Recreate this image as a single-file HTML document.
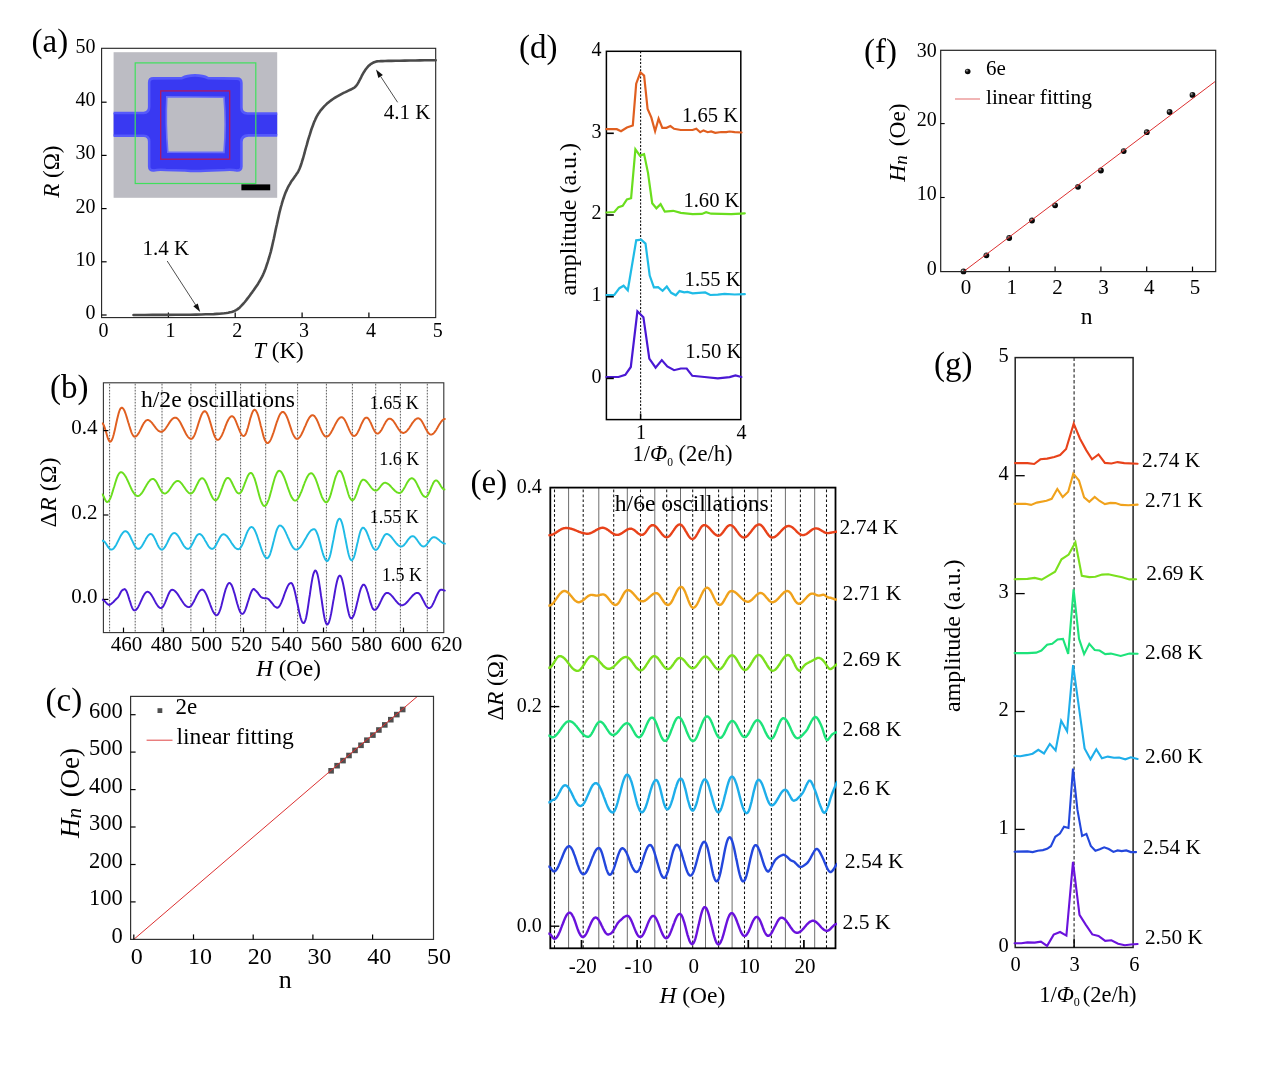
<!DOCTYPE html>
<html lang="en"><head><meta charset="utf-8"><title>Figure</title>
<style>
html,body{margin:0;padding:0;background:#fff;}
body{width:1269px;height:1069px;overflow:hidden;}
svg{display:block;}
svg text{font-family:"Liberation Serif", "DejaVu Serif", serif;fill:#000;}
</style></head><body>
<svg width="1269" height="1069" viewBox="0 0 1269 1069">
<rect x="0" y="0" width="1269" height="1069" fill="#fff"/>
<g>
<rect x="113.6" y="52.2" width="163.6" height="145.6" fill="#bcbcc3" stroke="none" stroke-width="0"/>
<clipPath id="clipins"><rect x="113.6" y="52.2" width="163.6" height="145.6"/></clipPath>
<path d="M105,113.0 L143.6,113.0 Q149.2,112.6 149.2,107.0 L149.2,82.5 Q149.2,78.4 153.4,78.4 L182,78.1 Q187,75.4 195,75.4 Q203,75.4 208,78.1 L237,78.6 Q241.4,78.6 241.4,83 L241.4,107.6 Q241.4,113.4 247.4,113.5 L285,113.5 L285,135.4 L248.4,135.4 Q241.4,135.6 241.4,142 L241.4,166.4 Q241.4,170.6 237,170.4 Q231,169.2 225,170.0 L205,170.7 Q195,171.4 185,170.5 L166,170.0 Q159,169.2 153.6,170.4 Q149.2,170.6 149.2,166.4 L149.2,141.6 Q149.2,136.0 143.6,135.8 L105,135.8 Z" fill="#3939f2" stroke="#5559fb" stroke-width="2.6" stroke-linejoin="round" clip-path="url(#clipins)"/>
<path d="M166.8,96.8 L224.0,97.2 Q226.4,124 224.0,152.4 L167.8,152.2 Q165.4,124 166.8,96.8 Z" fill="#bcbcc3" stroke="#6a6cf8" stroke-width="1.6"/>
<rect x="160.7" y="90.9" width="69.0" height="68.3" fill="none" stroke="#b3175f" stroke-width="1.3"/>
<rect x="135.2" y="62.9" width="120.6" height="120.6" fill="none" stroke="#3fe05c" stroke-width="1.2"/>
<rect x="241.4" y="184.4" width="28.8" height="5.9" fill="#000" stroke="none" stroke-width="0"/>
</g>
<rect x="101.6" y="48.3" width="334.1" height="269.3" fill="none" stroke="#222" stroke-width="1.1"/>
<line x1="101.6" y1="315.0" x2="106.6" y2="315.0" stroke="#000" stroke-width="1.2"/>
<text x="95.4" y="319.0" font-size="20" text-anchor="end">0</text>
<line x1="101.6" y1="261.8" x2="106.6" y2="261.8" stroke="#000" stroke-width="1.2"/>
<text x="95.4" y="265.8" font-size="20" text-anchor="end">10</text>
<line x1="101.6" y1="208.6" x2="106.6" y2="208.6" stroke="#000" stroke-width="1.2"/>
<text x="95.4" y="212.6" font-size="20" text-anchor="end">20</text>
<line x1="101.6" y1="155.4" x2="106.6" y2="155.4" stroke="#000" stroke-width="1.2"/>
<text x="95.4" y="159.4" font-size="20" text-anchor="end">30</text>
<line x1="101.6" y1="102.2" x2="106.6" y2="102.2" stroke="#000" stroke-width="1.2"/>
<text x="95.4" y="106.2" font-size="20" text-anchor="end">40</text>
<text x="95.4" y="53.0" font-size="20" text-anchor="end">50</text>
<text x="103.6" y="337.4" font-size="20" text-anchor="middle">0</text>
<line x1="168.4" y1="317.6" x2="168.4" y2="312.6" stroke="#000" stroke-width="1.2"/>
<text x="170.4" y="337.4" font-size="20" text-anchor="middle">1</text>
<line x1="235.2" y1="317.6" x2="235.2" y2="312.6" stroke="#000" stroke-width="1.2"/>
<text x="237.2" y="337.4" font-size="20" text-anchor="middle">2</text>
<line x1="302.1" y1="317.6" x2="302.1" y2="312.6" stroke="#000" stroke-width="1.2"/>
<text x="304.1" y="337.4" font-size="20" text-anchor="middle">3</text>
<line x1="368.9" y1="317.6" x2="368.9" y2="312.6" stroke="#000" stroke-width="1.2"/>
<text x="370.9" y="337.4" font-size="20" text-anchor="middle">4</text>
<text x="437.7" y="337.4" font-size="20" text-anchor="middle">5</text>
<text x="31.5" y="51.5" font-size="33" text-anchor="start">(a)</text>
<text x="278.5" y="357.5" font-size="23" text-anchor="middle"><tspan font-style="italic">T</tspan> (K)</text>
<text x="58.7" y="171.7" font-size="23" text-anchor="middle" transform="rotate(-90 58.7 171.7)"><tspan font-style="italic">R</tspan> (&#937;)</text>
<text x="142.5" y="254.8" font-size="21" text-anchor="start">1.4 K</text>
<text x="383.8" y="119.3" font-size="21" text-anchor="start">4.1 K</text>
<line x1="167.2" y1="261.0" x2="195.6" y2="304.9" stroke="#222" stroke-width="0.8"/>
<polygon points="200.2,312.0 193.3,306.3 197.8,303.4" fill="#111"/>
<line x1="397.6" y1="102.3" x2="380.7" y2="76.5" stroke="#222" stroke-width="0.8"/>
<polygon points="376.0,69.4 382.9,75.0 378.4,78.0" fill="#111"/>
<polyline points="133.5,315.0 138.2,315.0 144.9,315.0 152.5,314.9 160.0,314.9 167.5,314.9 175.4,314.8 183.1,314.8 190.0,314.7 195.9,314.6 201.1,314.5 205.8,314.3 210.0,314.2 213.7,314.1 216.8,313.9 219.5,313.7 222.0,313.5 224.3,313.3 226.4,313.0 228.2,312.7 230.0,312.3 231.7,311.9 233.2,311.4 234.6,310.9 236.0,310.2 237.3,309.4 238.6,308.4 239.8,307.4 241.0,306.2 242.2,304.9 243.5,303.5 244.8,302.0 246.0,300.5 247.2,298.9 248.5,297.2 249.8,295.5 251.0,293.8 252.3,292.1 253.6,290.3 254.8,288.5 256.0,286.8 257.1,285.2 258.1,283.7 259.0,282.2 260.0,280.5 261.0,278.6 262.1,276.6 263.1,274.6 264.0,272.5 264.8,270.5 265.6,268.5 266.3,266.4 267.0,264.2 267.8,261.9 268.5,259.5 269.3,257.0 270.0,254.5 270.7,252.1 271.3,249.6 271.9,247.1 272.5,244.5 273.1,241.7 273.8,238.8 274.4,235.9 275.0,233.0 275.6,230.1 276.2,227.2 276.9,224.3 277.5,221.5 278.1,218.7 278.7,216.0 279.3,213.2 280.0,210.5 280.7,207.7 281.5,205.0 282.2,202.3 283.0,199.8 283.8,197.5 284.5,195.4 285.2,193.5 286.0,191.6 286.8,189.9 287.5,188.3 288.2,186.8 289.0,185.4 289.8,184.1 290.5,182.8 291.2,181.6 292.0,180.5 292.8,179.4 293.5,178.4 294.2,177.4 295.0,176.3 295.8,175.2 296.5,174.1 297.3,173.0 298.0,171.8 298.7,170.5 299.3,169.2 299.9,167.8 300.5,166.2 301.1,164.5 301.7,162.7 302.3,160.7 303.0,158.5 303.7,156.0 304.5,153.2 305.2,150.3 306.0,147.5 306.8,144.9 307.5,142.2 308.2,139.7 309.0,137.2 309.8,134.7 310.5,132.3 311.2,130.0 312.0,127.8 312.8,125.7 313.5,123.8 314.2,121.9 315.0,120.2 315.7,118.6 316.4,117.1 317.2,115.7 318.0,114.3 318.9,112.9 319.9,111.5 320.9,110.1 322.0,108.8 323.2,107.5 324.4,106.1 325.7,104.9 327.0,103.6 328.4,102.4 329.9,101.2 331.4,100.1 333.0,99.0 334.7,97.9 336.4,96.8 338.2,95.8 340.0,94.8 341.8,93.8 343.6,92.9 345.4,92.1 347.0,91.3 348.4,90.6 349.7,90.0 350.9,89.5 352.0,88.9 353.0,88.3 353.9,87.8 354.7,87.3 355.5,86.6 356.2,85.9 356.8,85.0 357.4,84.2 358.0,83.2 358.6,82.1 359.2,80.9 359.9,79.7 360.5,78.5 361.1,77.3 361.7,76.0 362.3,74.8 363.0,73.6 363.7,72.4 364.5,71.2 365.2,70.1 366.0,69.0 366.8,68.0 367.5,67.2 368.2,66.3 369.0,65.6 369.8,64.9 370.5,64.3 371.2,63.8 372.0,63.3 372.8,62.9 373.5,62.5 374.2,62.2 375.0,61.9 375.7,61.7 376.2,61.5 377.0,61.4 378.0,61.3 379.3,61.2 380.8,61.1 382.6,61.1 385.0,61.0 388.1,60.9 391.7,60.9 395.7,60.8 400.0,60.7 404.7,60.6 410.0,60.5 415.2,60.5 420.0,60.4 424.6,60.3 429.1,60.3 433.0,60.2 435.7,60.2" fill="none" stroke="#4a4a4a" stroke-width="2.6" stroke-linejoin="round" stroke-linecap="round"/>
<clipPath id="clipb"><rect x="101.9" y="382.8" width="343.9" height="249.8"/></clipPath>
<line x1="109.6" y1="383.8" x2="109.6" y2="631.6" stroke="#4a4a4a" stroke-width="0.9" stroke-dasharray="1.7 1.3"/>
<line x1="135.2" y1="383.8" x2="135.2" y2="631.6" stroke="#4a4a4a" stroke-width="0.9" stroke-dasharray="1.7 1.3"/>
<line x1="162.0" y1="383.8" x2="162.0" y2="631.6" stroke="#4a4a4a" stroke-width="0.9" stroke-dasharray="1.7 1.3"/>
<line x1="190.9" y1="383.8" x2="190.9" y2="631.6" stroke="#4a4a4a" stroke-width="0.9" stroke-dasharray="1.7 1.3"/>
<line x1="215.7" y1="383.8" x2="215.7" y2="631.6" stroke="#4a4a4a" stroke-width="0.9" stroke-dasharray="1.7 1.3"/>
<line x1="240.6" y1="383.8" x2="240.6" y2="631.6" stroke="#4a4a4a" stroke-width="0.9" stroke-dasharray="1.7 1.3"/>
<line x1="265.7" y1="383.8" x2="265.7" y2="631.6" stroke="#4a4a4a" stroke-width="0.9" stroke-dasharray="1.7 1.3"/>
<line x1="297.6" y1="383.8" x2="297.6" y2="631.6" stroke="#4a4a4a" stroke-width="0.9" stroke-dasharray="1.7 1.3"/>
<line x1="326.4" y1="383.8" x2="326.4" y2="631.6" stroke="#4a4a4a" stroke-width="0.9" stroke-dasharray="1.7 1.3"/>
<line x1="352.4" y1="383.8" x2="352.4" y2="631.6" stroke="#4a4a4a" stroke-width="0.9" stroke-dasharray="1.7 1.3"/>
<line x1="375.7" y1="383.8" x2="375.7" y2="631.6" stroke="#4a4a4a" stroke-width="0.9" stroke-dasharray="1.7 1.3"/>
<line x1="400.4" y1="383.8" x2="400.4" y2="631.6" stroke="#4a4a4a" stroke-width="0.9" stroke-dasharray="1.7 1.3"/>
<line x1="427.3" y1="383.8" x2="427.3" y2="631.6" stroke="#4a4a4a" stroke-width="0.9" stroke-dasharray="1.7 1.3"/>
<rect x="103.4" y="382.8" width="340.4" height="249.8" fill="none" stroke="#333" stroke-width="1.1"/>
<polyline points="102.1,423.3 102.6,423.5 103.1,424.0 103.6,424.9 104.1,426.0 104.6,427.4 105.1,429.0 105.6,430.7 106.2,432.5 106.7,434.3 107.2,436.0 107.7,437.6 108.2,439.0 108.7,440.1 109.2,441.0 109.7,441.5 110.2,441.7 110.7,441.5 111.2,441.1 111.7,440.3 112.2,439.2 112.7,437.9 113.2,436.3 113.7,434.5 114.2,432.5 114.7,430.4 115.2,428.2 115.7,425.9 116.2,423.5 116.7,421.2 117.2,419.0 117.7,416.9 118.2,414.9 118.7,413.1 119.2,411.5 119.7,410.2 120.2,409.1 120.7,408.3 121.2,407.9 121.7,407.7 122.2,407.8 122.7,408.1 123.2,408.6 123.7,409.4 124.2,410.3 124.7,411.3 125.2,412.6 125.7,414.0 126.2,415.5 126.7,417.1 127.2,418.7 127.7,420.5 128.2,422.2 128.8,423.9 129.3,425.7 129.8,427.3 130.3,428.9 130.8,430.4 131.3,431.8 131.8,433.1 132.3,434.1 132.8,435.0 133.3,435.8 133.8,436.3 134.3,436.6 134.8,436.7 135.3,436.6 135.8,436.4 136.3,436.1 136.8,435.7 137.3,435.1 137.8,434.4 138.4,433.7 138.9,432.8 139.4,431.9 139.9,430.9 140.4,429.9 140.9,428.9 141.4,427.8 141.9,426.8 142.4,425.8 142.9,424.8 143.4,423.9 143.9,423.0 144.5,422.3 145.0,421.6 145.5,421.0 146.0,420.6 146.5,420.3 147.0,420.1 147.5,420.0 148.0,420.0 148.5,420.2 149.0,420.4 149.5,420.6 150.0,421.0 150.5,421.4 151.0,421.9 151.5,422.4 152.0,422.9 152.5,423.6 153.0,424.2 153.5,424.9 154.0,425.6 154.5,426.2 155.0,426.9 155.5,427.6 156.0,428.2 156.5,428.9 157.0,429.4 157.5,429.9 158.0,430.4 158.5,430.8 159.0,431.2 159.5,431.4 160.0,431.6 160.5,431.8 161.0,431.8 161.5,431.8 162.0,431.6 162.5,431.4 163.0,431.1 163.5,430.7 164.0,430.3 164.6,429.7 165.1,429.1 165.6,428.5 166.1,427.8 166.6,427.0 167.1,426.3 167.6,425.5 168.1,424.7 168.6,423.9 169.1,423.1 169.6,422.4 170.1,421.6 170.6,420.9 171.1,420.3 171.6,419.7 172.2,419.1 172.7,418.7 173.2,418.3 173.7,418.0 174.2,417.8 174.7,417.6 175.2,417.6 175.7,417.7 176.2,417.8 176.7,418.1 177.2,418.4 177.7,418.9 178.2,419.4 178.7,420.0 179.2,420.7 179.7,421.5 180.2,422.3 180.7,423.2 181.2,424.2 181.7,425.2 182.2,426.2 182.7,427.2 183.2,428.2 183.7,429.3 184.2,430.3 184.7,431.3 185.2,432.3 185.7,433.3 186.2,434.2 186.7,435.0 187.2,435.8 187.7,436.5 188.2,437.1 188.7,437.6 189.2,438.1 189.7,438.4 190.2,438.7 190.7,438.8 191.2,438.9 191.7,438.8 192.2,438.5 192.7,438.1 193.2,437.4 193.7,436.6 194.2,435.7 194.7,434.6 195.2,433.3 195.7,432.0 196.2,430.5 196.7,429.0 197.2,427.5 197.7,425.9 198.2,424.2 198.7,422.6 199.2,421.1 199.7,419.6 200.2,418.1 200.7,416.8 201.2,415.5 201.7,414.4 202.2,413.5 202.7,412.7 203.2,412.0 203.7,411.6 204.2,411.3 204.7,411.2 205.2,411.3 205.7,411.6 206.2,412.1 206.7,412.8 207.2,413.7 207.7,414.8 208.2,416.0 208.7,417.4 209.2,418.9 209.7,420.5 210.2,422.1 210.7,423.8 211.2,425.5 211.7,427.3 212.2,429.0 212.7,430.6 213.2,432.2 213.7,433.7 214.2,435.1 214.7,436.3 215.2,437.4 215.7,438.3 216.2,439.0 216.7,439.5 217.2,439.8 217.7,439.9 218.2,439.8 218.7,439.6 219.2,439.2 219.7,438.7 220.2,438.1 220.7,437.3 221.2,436.4 221.8,435.4 222.3,434.4 222.8,433.2 223.3,432.0 223.8,430.7 224.3,429.4 224.8,428.1 225.3,426.7 225.8,425.4 226.3,424.1 226.8,422.9 227.3,421.7 227.8,420.7 228.3,419.7 228.9,418.8 229.4,418.0 229.9,417.4 230.4,416.9 230.9,416.5 231.4,416.3 231.9,416.2 232.4,416.3 232.9,416.6 233.4,417.0 234.0,417.6 234.5,418.4 235.0,419.3 235.5,420.4 236.0,421.5 236.5,422.8 237.0,424.1 237.5,425.4 238.1,426.8 238.6,428.1 239.1,429.4 239.6,430.7 240.1,431.8 240.6,432.9 241.1,433.8 241.6,434.6 242.2,435.2 242.7,435.6 243.2,435.9 243.7,436.0 244.2,435.9 244.7,435.4 245.3,434.7 245.8,433.7 246.3,432.5 246.8,431.1 247.3,429.4 247.9,427.7 248.4,425.8 248.9,423.9 249.4,421.9 249.9,420.0 250.4,418.1 251.0,416.4 251.5,414.7 252.0,413.3 252.5,412.1 253.0,411.1 253.6,410.4 254.1,409.9 254.6,409.8 255.1,409.9 255.6,410.3 256.1,411.0 256.6,411.9 257.2,413.0 257.7,414.3 258.2,415.8 258.7,417.5 259.2,419.4 259.7,421.3 260.2,423.3 260.7,425.4 261.3,427.5 261.8,429.6 262.3,431.6 262.8,433.5 263.3,435.4 263.8,437.1 264.3,438.6 264.8,439.9 265.4,441.0 265.9,441.9 266.4,442.6 266.9,443.0 267.4,443.1 267.9,443.0 268.4,442.8 268.9,442.3 269.5,441.8 270.0,441.0 270.5,440.1 271.0,439.1 271.5,437.9 272.0,436.7 272.5,435.3 273.0,433.8 273.6,432.3 274.1,430.7 274.6,429.1 275.1,427.5 275.6,425.9 276.1,424.3 276.6,422.7 277.2,421.2 277.7,419.7 278.2,418.3 278.7,417.1 279.2,415.9 279.7,414.9 280.2,414.0 280.7,413.2 281.3,412.7 281.8,412.2 282.3,412.0 282.8,411.9 283.3,412.0 283.8,412.2 284.3,412.7 284.8,413.2 285.3,414.0 285.8,414.8 286.4,415.9 286.9,417.0 287.4,418.2 287.9,419.5 288.4,420.9 288.9,422.4 289.4,423.9 289.9,425.4 290.4,426.9 290.9,428.4 291.4,429.9 291.9,431.3 292.4,432.6 292.9,433.8 293.4,434.9 294.0,436.0 294.5,436.8 295.0,437.6 295.5,438.1 296.0,438.6 296.5,438.8 297.0,438.9 297.5,438.8 298.0,438.7 298.5,438.4 299.0,437.9 299.5,437.4 300.0,436.8 300.5,436.0 301.0,435.2 301.5,434.3 302.0,433.3 302.5,432.3 303.0,431.2 303.5,430.0 304.0,428.8 304.5,427.7 305.1,426.4 305.6,425.3 306.1,424.1 306.6,422.9 307.1,421.8 307.6,420.8 308.1,419.8 308.6,418.9 309.1,418.1 309.6,417.3 310.1,416.7 310.6,416.2 311.1,415.7 311.6,415.4 312.1,415.3 312.6,415.2 313.1,415.3 313.6,415.5 314.1,415.8 314.6,416.3 315.1,417.0 315.6,417.7 316.2,418.6 316.7,419.5 317.2,420.6 317.7,421.7 318.2,422.9 318.7,424.1 319.2,425.3 319.7,426.6 320.2,427.8 320.7,429.0 321.2,430.2 321.7,431.3 322.2,432.4 322.7,433.3 323.3,434.2 323.8,434.9 324.3,435.6 324.8,436.1 325.3,436.4 325.8,436.6 326.3,436.7 326.8,436.6 327.3,436.5 327.8,436.2 328.3,435.9 328.9,435.4 329.4,434.8 329.9,434.2 330.4,433.5 330.9,432.7 331.4,431.8 331.9,430.9 332.4,430.0 332.9,429.0 333.4,428.0 334.0,426.9 334.5,425.9 335.0,424.9 335.5,423.9 336.0,423.0 336.5,422.1 337.0,421.2 337.5,420.4 338.0,419.7 338.5,419.1 339.1,418.5 339.6,418.0 340.1,417.7 340.6,417.4 341.1,417.3 341.6,417.2 342.1,417.3 342.6,417.5 343.1,417.9 343.6,418.4 344.1,419.0 344.6,419.7 345.1,420.6 345.6,421.6 346.1,422.6 346.6,423.7 347.1,424.8 347.6,426.0 348.1,427.2 348.6,428.4 349.1,429.5 349.6,430.6 350.1,431.6 350.6,432.6 351.1,433.5 351.6,434.2 352.1,434.8 352.6,435.3 353.1,435.7 353.6,435.9 354.1,436.0 354.6,435.9 355.1,435.7 355.7,435.3 356.2,434.8 356.7,434.1 357.2,433.3 357.7,432.4 358.2,431.4 358.8,430.3 359.3,429.2 359.8,428.0 360.3,426.8 360.8,425.6 361.3,424.4 361.9,423.3 362.4,422.2 362.9,421.2 363.4,420.3 363.9,419.5 364.4,418.8 364.9,418.3 365.5,417.9 366.0,417.7 366.5,417.6 367.0,417.7 367.5,418.0 368.1,418.4 368.6,419.0 369.1,419.7 369.6,420.6 370.1,421.6 370.7,422.7 371.2,423.8 371.7,425.0 372.2,426.2 372.7,427.4 373.2,428.5 373.8,429.6 374.3,430.6 374.8,431.5 375.3,432.2 375.8,432.8 376.4,433.2 376.9,433.5 377.4,433.6 377.9,433.5 378.4,433.3 378.9,433.0 379.4,432.6 379.9,432.1 380.4,431.4 381.0,430.7 381.5,429.9 382.0,429.0 382.5,428.0 383.0,427.1 383.5,426.1 384.0,425.1 384.5,424.2 385.0,423.2 385.5,422.4 386.0,421.5 386.6,420.8 387.1,420.1 387.6,419.6 388.1,419.2 388.6,418.9 389.1,418.7 389.6,418.6 390.1,418.6 390.6,418.8 391.1,419.0 391.6,419.4 392.1,419.8 392.6,420.3 393.2,420.8 393.7,421.5 394.2,422.2 394.7,422.9 395.2,423.7 395.7,424.5 396.2,425.3 396.7,426.2 397.2,427.0 397.7,427.8 398.2,428.6 398.7,429.3 399.2,430.0 399.7,430.7 400.3,431.2 400.8,431.7 401.3,432.1 401.8,432.5 402.3,432.7 402.8,432.9 403.3,432.9 403.8,432.9 404.3,432.7 404.8,432.5 405.4,432.2 405.9,431.9 406.4,431.4 406.9,430.9 407.4,430.3 407.9,429.7 408.4,429.0 409.0,428.3 409.5,427.6 410.0,426.8 410.5,426.0 411.0,425.2 411.5,424.4 412.0,423.6 412.5,422.9 413.1,422.2 413.6,421.5 414.1,420.9 414.6,420.3 415.1,419.8 415.6,419.3 416.1,419.0 416.7,418.7 417.2,418.5 417.7,418.3 418.2,418.3 418.7,418.4 419.2,418.6 419.7,418.9 420.2,419.3 420.8,419.9 421.3,420.5 421.8,421.3 422.3,422.1 422.8,423.0 423.3,423.9 423.8,424.9 424.3,425.9 424.9,427.0 425.4,428.0 425.9,429.0 426.4,429.9 426.9,430.8 427.4,431.6 427.9,432.4 428.4,433.0 429.0,433.6 429.5,434.0 430.0,434.3 430.5,434.5 431.0,434.6 431.5,434.6 432.0,434.4 432.5,434.2 433.0,433.8 433.5,433.4 434.0,432.9 434.5,432.3 435.0,431.7 435.5,430.9 436.0,430.2 436.5,429.4 437.0,428.5 437.5,427.7 438.0,426.8 438.5,425.9 439.0,425.1 439.5,424.2 440.0,423.4 440.5,422.7 441.0,421.9 441.5,421.3 442.0,420.7 442.5,420.2 443.0,419.8 443.5,419.4 444.0,419.2 444.5,419.0 445.0,419.0" fill="none" stroke="#e05f20" stroke-width="1.95" stroke-linejoin="round" stroke-linecap="round" clip-path="url(#clipb)"/>
<polyline points="101.7,494.2 102.2,494.4 102.8,494.9 103.3,495.8 103.9,496.9 104.4,498.1 104.9,499.3 105.5,500.4 106.0,501.3 106.6,501.8 107.1,502.0 107.6,501.9 108.1,501.6 108.6,501.1 109.1,500.4 109.7,499.5 110.2,498.5 110.7,497.3 111.2,496.0 111.7,494.6 112.2,493.0 112.7,491.4 113.2,489.7 113.7,488.0 114.3,486.2 114.8,484.5 115.3,482.8 115.8,481.2 116.3,479.6 116.8,478.2 117.3,476.9 117.8,475.7 118.3,474.7 118.9,473.8 119.4,473.1 119.9,472.6 120.4,472.3 120.9,472.2 121.4,472.3 121.9,472.4 122.4,472.7 122.9,473.1 123.4,473.5 123.9,474.1 124.4,474.7 124.9,475.5 125.5,476.3 126.0,477.2 126.5,478.1 127.0,479.2 127.5,480.2 128.0,481.3 128.5,482.4 129.0,483.5 129.5,484.7 130.0,485.8 130.5,486.9 131.0,488.0 131.5,489.0 132.0,490.1 132.5,491.0 133.0,491.9 133.6,492.7 134.1,493.5 134.6,494.1 135.1,494.7 135.6,495.1 136.1,495.5 136.6,495.8 137.1,495.9 137.6,496.0 138.1,496.0 138.6,495.8 139.1,495.6 139.6,495.3 140.1,494.9 140.6,494.4 141.1,493.8 141.7,493.2 142.2,492.5 142.7,491.7 143.2,490.9 143.7,490.1 144.2,489.2 144.7,488.3 145.2,487.4 145.7,486.6 146.2,485.7 146.7,484.8 147.2,484.0 147.7,483.2 148.2,482.4 148.7,481.7 149.3,481.1 149.8,480.5 150.3,480.0 150.8,479.6 151.3,479.3 151.8,479.1 152.3,478.9 152.8,478.9 153.3,479.0 153.8,479.2 154.3,479.5 154.8,480.0 155.3,480.5 155.9,481.2 156.4,482.0 156.9,482.8 157.4,483.8 157.9,484.7 158.4,485.7 158.9,486.7 159.4,487.7 159.9,488.6 160.4,489.6 160.9,490.4 161.4,491.2 162.0,491.9 162.5,492.4 163.0,492.9 163.5,493.2 164.0,493.4 164.5,493.5 165.0,493.5 165.5,493.3 166.0,493.1 166.5,492.8 167.0,492.4 167.5,491.9 168.1,491.4 168.6,490.8 169.1,490.2 169.6,489.5 170.1,488.7 170.6,488.0 171.1,487.2 171.6,486.5 172.1,485.8 172.6,485.0 173.1,484.3 173.6,483.7 174.1,483.1 174.7,482.6 175.2,482.1 175.7,481.7 176.2,481.4 176.7,481.2 177.2,481.0 177.7,481.0 178.2,481.0 178.7,481.2 179.2,481.4 179.7,481.7 180.2,482.1 180.7,482.6 181.2,483.1 181.7,483.7 182.2,484.3 182.7,485.0 183.2,485.8 183.7,486.5 184.2,487.2 184.8,488.0 185.3,488.7 185.8,489.5 186.3,490.2 186.8,490.8 187.3,491.4 187.8,491.9 188.3,492.4 188.8,492.8 189.3,493.1 189.8,493.3 190.3,493.5 190.8,493.5 191.3,493.4 191.8,493.2 192.3,492.8 192.9,492.3 193.4,491.6 193.9,490.9 194.4,490.0 194.9,489.0 195.4,488.0 195.9,486.9 196.4,485.9 197.0,484.8 197.5,483.7 198.0,482.7 198.5,481.7 199.0,480.8 199.5,480.1 200.0,479.4 200.6,478.9 201.1,478.5 201.6,478.3 202.1,478.2 202.6,478.3 203.1,478.5 203.6,478.9 204.1,479.4 204.6,480.0 205.1,480.8 205.6,481.7 206.1,482.7 206.6,483.7 207.1,484.9 207.6,486.1 208.1,487.3 208.6,488.6 209.1,489.9 209.6,491.2 210.1,492.4 210.6,493.6 211.1,494.8 211.6,495.8 212.1,496.8 212.6,497.7 213.1,498.5 213.6,499.1 214.1,499.6 214.6,500.0 215.1,500.2 215.6,500.3 216.1,500.2 216.6,499.9 217.1,499.4 217.6,498.8 218.1,498.0 218.6,497.0 219.1,495.9 219.6,494.7 220.1,493.4 220.6,492.0 221.1,490.6 221.6,489.1 222.2,487.6 222.7,486.2 223.2,484.8 223.7,483.5 224.2,482.3 224.7,481.2 225.2,480.2 225.7,479.4 226.2,478.8 226.7,478.3 227.2,478.0 227.7,477.9 228.2,478.0 228.7,478.2 229.2,478.6 229.8,479.1 230.3,479.8 230.8,480.6 231.3,481.5 231.8,482.5 232.3,483.5 232.8,484.6 233.3,485.7 233.9,486.8 234.4,487.9 234.9,488.9 235.4,489.9 235.9,490.8 236.4,491.6 236.9,492.3 237.5,492.8 238.0,493.2 238.5,493.4 239.0,493.5 239.5,493.4 240.0,493.1 240.5,492.6 241.1,492.0 241.6,491.2 242.1,490.2 242.6,489.1 243.1,487.9 243.6,486.6 244.1,485.3 244.6,483.9 245.2,482.5 245.7,481.1 246.2,479.8 246.7,478.5 247.2,477.3 247.7,476.2 248.2,475.2 248.7,474.4 249.3,473.8 249.8,473.3 250.3,473.0 250.8,472.9 251.3,473.0 251.8,473.3 252.3,473.9 252.8,474.7 253.3,475.6 253.8,476.8 254.4,478.1 254.9,479.6 255.4,481.2 255.9,482.9 256.4,484.7 256.9,486.6 257.4,488.5 257.9,490.4 258.4,492.3 258.9,494.2 259.4,496.0 259.9,497.7 260.4,499.3 260.9,500.8 261.5,502.1 262.0,503.3 262.5,504.2 263.0,505.0 263.5,505.6 264.0,505.9 264.5,506.0 265.0,505.9 265.5,505.6 266.0,505.1 266.5,504.4 267.0,503.5 267.5,502.4 268.0,501.2 268.6,499.8 269.1,498.3 269.6,496.6 270.1,494.9 270.6,493.1 271.1,491.2 271.6,489.4 272.1,487.4 272.6,485.6 273.1,483.7 273.6,481.9 274.1,480.2 274.6,478.5 275.1,477.0 275.7,475.6 276.2,474.4 276.7,473.3 277.2,472.4 277.7,471.7 278.2,471.2 278.7,470.9 279.2,470.8 279.7,470.9 280.2,471.1 280.7,471.4 281.2,471.9 281.7,472.6 282.2,473.3 282.7,474.2 283.2,475.2 283.7,476.2 284.2,477.4 284.7,478.7 285.2,480.0 285.7,481.4 286.2,482.8 286.7,484.2 287.2,485.7 287.7,487.2 288.2,488.6 288.7,490.0 289.2,491.4 289.7,492.7 290.2,494.0 290.7,495.2 291.2,496.2 291.7,497.2 292.2,498.1 292.7,498.8 293.2,499.5 293.7,500.0 294.2,500.3 294.7,500.5 295.2,500.6 295.7,500.5 296.2,500.3 296.7,500.0 297.3,499.5 297.8,498.9 298.3,498.1 298.8,497.3 299.3,496.3 299.8,495.3 300.3,494.1 300.8,492.9 301.4,491.7 301.9,490.3 302.4,489.0 302.9,487.6 303.4,486.2 303.9,484.8 304.4,483.5 304.9,482.1 305.5,480.9 306.0,479.7 306.5,478.5 307.0,477.5 307.5,476.5 308.0,475.7 308.5,474.9 309.0,474.3 309.6,473.8 310.1,473.5 310.6,473.3 311.1,473.2 311.6,473.3 312.1,473.5 312.6,473.9 313.1,474.5 313.6,475.1 314.1,476.0 314.6,476.9 315.2,478.0 315.7,479.2 316.2,480.5 316.7,481.8 317.2,483.3 317.7,484.7 318.2,486.2 318.7,487.8 319.2,489.3 319.7,490.8 320.2,492.2 320.7,493.7 321.2,495.0 321.7,496.3 322.2,497.5 322.8,498.6 323.3,499.5 323.8,500.4 324.3,501.0 324.8,501.6 325.3,502.0 325.8,502.2 326.3,502.3 326.8,502.2 327.3,501.8 327.8,501.3 328.3,500.5 328.8,499.5 329.3,498.3 329.9,497.0 330.4,495.5 330.9,493.9 331.4,492.1 331.9,490.3 332.4,488.4 332.9,486.6 333.4,484.7 333.9,482.8 334.4,481.0 334.9,479.2 335.4,477.6 335.9,476.1 336.5,474.8 337.0,473.6 337.5,472.6 338.0,471.8 338.5,471.3 339.0,470.9 339.5,470.8 340.0,470.9 340.5,471.3 341.0,471.8 341.5,472.6 342.1,473.6 342.6,474.8 343.1,476.1 343.6,477.6 344.1,479.3 344.6,481.0 345.1,482.8 345.6,484.6 346.2,486.5 346.7,488.3 347.2,490.1 347.7,491.8 348.2,493.5 348.7,495.0 349.2,496.3 349.7,497.5 350.3,498.5 350.8,499.3 351.3,499.8 351.8,500.2 352.3,500.3 352.8,500.2 353.3,499.8 353.9,499.3 354.4,498.5 354.9,497.6 355.4,496.4 355.9,495.2 356.5,493.8 357.0,492.3 357.5,490.8 358.0,489.2 358.5,487.7 359.0,486.2 359.6,484.9 360.1,483.6 360.6,482.4 361.1,481.5 361.6,480.7 362.2,480.2 362.7,479.8 363.2,479.7 363.7,479.7 364.2,479.9 364.7,480.1 365.2,480.4 365.7,480.7 366.2,481.2 366.7,481.7 367.2,482.2 367.7,482.8 368.2,483.5 368.7,484.1 369.2,484.8 369.7,485.5 370.2,486.2 370.7,486.8 371.2,487.5 371.7,488.1 372.2,488.6 372.7,489.1 373.2,489.6 373.7,489.9 374.2,490.2 374.7,490.4 375.2,490.6 375.7,490.6 376.2,490.5 376.7,490.4 377.2,490.1 377.7,489.7 378.3,489.2 378.8,488.7 379.3,488.0 379.8,487.4 380.3,486.7 380.8,486.0 381.3,485.4 381.8,484.8 382.3,484.2 382.9,483.7 383.4,483.3 383.9,483.0 384.4,482.9 384.9,482.8 385.4,482.8 385.9,482.9 386.4,483.1 386.9,483.3 387.4,483.5 387.9,483.8 388.4,484.2 388.9,484.6 389.4,485.0 389.9,485.5 390.4,486.0 390.9,486.5 391.4,487.1 391.9,487.6 392.4,488.2 392.9,488.7 393.4,489.3 393.9,489.8 394.4,490.3 394.9,490.8 395.4,491.2 395.9,491.6 396.4,492.0 396.9,492.3 397.4,492.5 397.9,492.7 398.4,492.9 398.9,493.0 399.4,493.0 399.9,492.9 400.4,492.7 400.9,492.4 401.5,492.0 402.0,491.5 402.5,490.8 403.0,490.1 403.5,489.3 404.1,488.4 404.6,487.5 405.1,486.6 405.6,485.6 406.1,484.6 406.6,483.7 407.1,482.8 407.7,481.9 408.2,481.1 408.7,480.4 409.2,479.7 409.7,479.2 410.2,478.8 410.8,478.5 411.3,478.3 411.8,478.2 412.3,478.3 412.8,478.5 413.3,478.8 413.8,479.2 414.4,479.7 414.9,480.4 415.4,481.1 415.9,482.0 416.4,482.9 416.9,483.9 417.4,484.9 417.9,486.0 418.4,487.1 419.0,488.1 419.5,489.2 420.0,490.3 420.5,491.3 421.0,492.3 421.5,493.2 422.0,494.1 422.5,494.8 423.0,495.5 423.6,496.0 424.1,496.4 424.6,496.7 425.1,496.9 425.6,497.0 426.1,496.9 426.6,496.6 427.2,496.1 427.7,495.4 428.2,494.6 428.7,493.6 429.2,492.5 429.8,491.3 430.3,490.0 430.8,488.7 431.3,487.4 431.8,486.1 432.4,484.9 432.9,483.8 433.4,482.8 433.9,482.0 434.4,481.3 435.0,480.8 435.5,480.5 436.0,480.4 436.5,480.5 437.0,480.7 437.5,481.1 438.0,481.6 438.5,482.2 439.0,482.9 439.5,483.7 440.0,484.5 440.5,485.4 441.0,486.2 441.5,487.0 442.0,487.7 442.5,488.3 443.0,488.8 443.5,489.2 444.0,489.4 444.5,489.5" fill="none" stroke="#6ade1e" stroke-width="1.95" stroke-linejoin="round" stroke-linecap="round" clip-path="url(#clipb)"/>
<polyline points="102.6,540.7 103.1,540.8 103.6,541.0 104.1,541.4 104.6,541.9 105.2,542.5 105.7,543.2 106.2,543.9 106.7,544.7 107.2,545.6 107.7,546.4 108.2,547.1 108.7,547.8 109.3,548.4 109.8,548.9 110.3,549.3 110.8,549.5 111.3,549.6 111.8,549.5 112.3,549.4 112.8,549.1 113.3,548.7 113.8,548.2 114.3,547.6 114.8,546.9 115.4,546.1 115.9,545.3 116.4,544.4 116.9,543.4 117.4,542.4 117.9,541.4 118.4,540.4 118.9,539.4 119.4,538.4 119.9,537.4 120.4,536.4 120.9,535.5 121.4,534.7 122.0,533.9 122.5,533.2 123.0,532.6 123.5,532.1 124.0,531.7 124.5,531.4 125.0,531.3 125.5,531.2 126.0,531.3 126.5,531.5 127.0,531.8 127.5,532.3 128.1,532.9 128.6,533.6 129.1,534.4 129.6,535.3 130.1,536.3 130.6,537.3 131.1,538.4 131.6,539.5 132.2,540.6 132.7,541.7 133.2,542.8 133.7,543.8 134.2,544.8 134.7,545.7 135.2,546.5 135.7,547.2 136.3,547.8 136.8,548.3 137.3,548.6 137.8,548.8 138.3,548.9 138.8,548.8 139.3,548.7 139.8,548.4 140.3,548.0 140.8,547.5 141.3,546.9 141.8,546.2 142.3,545.4 142.8,544.6 143.3,543.8 143.8,542.8 144.3,541.9 144.8,541.0 145.3,540.1 145.8,539.1 146.3,538.3 146.8,537.5 147.3,536.7 147.8,536.0 148.3,535.4 148.8,534.9 149.3,534.5 149.8,534.2 150.3,534.1 150.8,534.0 151.3,534.1 151.8,534.3 152.4,534.8 152.9,535.4 153.4,536.1 153.9,536.9 154.4,537.9 155.0,539.0 155.5,540.1 156.0,541.2 156.5,542.4 157.0,543.5 157.5,544.6 158.1,545.7 158.6,546.7 159.1,547.5 159.6,548.2 160.1,548.8 160.7,549.3 161.2,549.5 161.7,549.6 162.2,549.5 162.7,549.3 163.2,549.0 163.7,548.6 164.2,548.0 164.7,547.4 165.2,546.6 165.7,545.7 166.2,544.8 166.7,543.9 167.2,542.9 167.7,541.8 168.2,540.8 168.7,539.7 169.2,538.7 169.7,537.8 170.2,536.9 170.7,536.0 171.2,535.2 171.7,534.6 172.2,534.0 172.7,533.6 173.2,533.3 173.7,533.1 174.2,533.0 174.7,533.1 175.2,533.2 175.7,533.5 176.2,533.8 176.7,534.3 177.2,534.9 177.8,535.5 178.3,536.2 178.8,537.0 179.3,537.8 179.8,538.7 180.3,539.6 180.8,540.5 181.3,541.4 181.8,542.3 182.3,543.2 182.8,544.1 183.3,544.9 183.8,545.7 184.3,546.4 184.9,547.0 185.4,547.6 185.9,548.1 186.4,548.4 186.9,548.7 187.4,548.8 187.9,548.9 188.4,548.8 188.9,548.6 189.5,548.2 190.0,547.7 190.5,547.1 191.0,546.3 191.5,545.5 192.0,544.5 192.6,543.5 193.1,542.5 193.6,541.5 194.1,540.4 194.6,539.4 195.2,538.4 195.7,537.4 196.2,536.6 196.7,535.8 197.2,535.2 197.7,534.7 198.3,534.3 198.8,534.1 199.3,534.0 199.8,534.1 200.3,534.2 200.8,534.5 201.3,534.9 201.9,535.4 202.4,536.0 202.9,536.7 203.4,537.5 203.9,538.3 204.4,539.1 204.9,540.1 205.4,541.0 206.0,541.9 206.5,542.8 207.0,543.8 207.5,544.6 208.0,545.4 208.5,546.2 209.0,546.9 209.5,547.5 210.1,548.0 210.6,548.4 211.1,548.7 211.6,548.8 212.1,548.9 212.6,548.8 213.1,548.6 213.6,548.2 214.2,547.7 214.7,547.1 215.2,546.4 215.7,545.5 216.2,544.6 216.7,543.7 217.2,542.6 217.8,541.6 218.3,540.6 218.8,539.5 219.3,538.6 219.8,537.7 220.3,536.8 220.8,536.1 221.3,535.5 221.9,535.0 222.4,534.6 222.9,534.4 223.4,534.3 223.9,534.3 224.4,534.5 224.9,534.7 225.5,535.0 226.0,535.4 226.5,535.8 227.0,536.3 227.5,536.9 228.0,537.6 228.5,538.3 229.1,539.0 229.6,539.8 230.1,540.5 230.6,541.3 231.1,542.2 231.6,543.0 232.1,543.7 232.6,544.5 233.2,545.2 233.7,545.9 234.2,546.6 234.7,547.2 235.2,547.7 235.7,548.1 236.2,548.5 236.8,548.8 237.3,549.0 237.8,549.2 238.3,549.2 238.8,549.1 239.3,548.9 239.8,548.5 240.3,547.9 240.8,547.2 241.3,546.4 241.9,545.5 242.4,544.4 242.9,543.3 243.4,542.0 243.9,540.8 244.4,539.4 244.9,538.1 245.4,536.8 245.9,535.4 246.4,534.2 246.9,532.9 247.4,531.8 247.9,530.7 248.5,529.8 249.0,529.0 249.5,528.3 250.0,527.7 250.5,527.3 251.0,527.1 251.5,527.0 252.0,527.1 252.5,527.3 253.0,527.7 253.5,528.3 254.0,529.0 254.5,529.8 255.0,530.8 255.5,531.9 256.0,533.1 256.5,534.3 257.0,535.7 257.5,537.2 258.0,538.7 258.5,540.2 259.0,541.8 259.6,543.4 260.1,545.0 260.6,546.5 261.1,548.0 261.6,549.5 262.1,550.9 262.6,552.1 263.1,553.3 263.6,554.4 264.1,555.4 264.6,556.2 265.1,556.9 265.6,557.5 266.1,557.9 266.6,558.1 267.1,558.2 267.6,558.1 268.1,557.7 268.6,557.1 269.1,556.2 269.7,555.1 270.2,553.8 270.7,552.3 271.2,550.6 271.7,548.8 272.2,546.9 272.7,544.9 273.2,542.9 273.8,540.8 274.3,538.8 274.8,536.8 275.3,534.9 275.8,533.1 276.3,531.4 276.8,529.9 277.3,528.6 277.9,527.5 278.4,526.6 278.9,526.0 279.4,525.6 279.9,525.5 280.4,525.6 280.9,525.7 281.4,526.0 281.9,526.4 282.4,526.9 283.0,527.5 283.5,528.2 284.0,529.0 284.5,529.9 285.0,530.9 285.5,531.9 286.0,532.9 286.5,534.1 287.0,535.2 287.5,536.4 288.0,537.5 288.6,538.7 289.1,539.9 289.6,541.0 290.1,542.2 290.6,543.2 291.1,544.2 291.6,545.2 292.1,546.1 292.6,546.9 293.1,547.6 293.7,548.2 294.2,548.7 294.7,549.1 295.2,549.4 295.7,549.5 296.2,549.6 296.7,549.6 297.2,549.4 297.7,549.2 298.2,548.9 298.7,548.6 299.3,548.1 299.8,547.6 300.3,547.1 300.8,546.4 301.3,545.7 301.8,545.0 302.3,544.2 302.8,543.4 303.3,542.5 303.8,541.6 304.3,540.7 304.8,539.8 305.4,538.9 305.9,538.0 306.4,537.1 306.9,536.2 307.4,535.3 307.9,534.5 308.4,533.7 308.9,533.0 309.4,532.3 309.9,531.6 310.4,531.1 310.9,530.6 311.5,530.1 312.0,529.8 312.5,529.5 313.0,529.3 313.5,529.1 314.0,529.1 314.5,529.2 315.0,529.6 315.5,530.1 316.0,530.9 316.5,531.9 317.0,533.1 317.6,534.5 318.1,536.0 318.6,537.6 319.1,539.4 319.6,541.2 320.1,543.1 320.6,545.0 321.1,547.0 321.6,548.9 322.1,550.7 322.6,552.5 323.1,554.1 323.6,555.6 324.2,557.0 324.7,558.2 325.2,559.2 325.7,560.0 326.2,560.5 326.7,560.9 327.2,561.0 327.7,560.8 328.2,560.3 328.7,559.4 329.2,558.2 329.8,556.6 330.3,554.8 330.8,552.7 331.3,550.4 331.8,547.9 332.3,545.3 332.8,542.6 333.4,539.9 333.9,537.1 334.4,534.4 334.9,531.8 335.4,529.3 335.9,527.0 336.4,524.9 336.9,523.1 337.4,521.5 338.0,520.3 338.5,519.4 339.0,518.9 339.5,518.7 340.0,518.9 340.5,519.4 341.0,520.3 341.5,521.5 342.0,523.0 342.5,524.8 343.0,526.8 343.5,529.1 344.0,531.5 344.5,534.1 345.0,536.8 345.6,539.5 346.1,542.2 346.6,544.9 347.1,547.5 347.6,549.9 348.1,552.2 348.6,554.2 349.1,556.0 349.6,557.5 350.1,558.7 350.6,559.6 351.1,560.1 351.6,560.3 352.1,560.1 352.6,559.6 353.1,558.8 353.7,557.7 354.2,556.3 354.7,554.7 355.2,552.8 355.7,550.8 356.2,548.6 356.7,546.3 357.2,544.0 357.8,541.7 358.3,539.4 358.8,537.2 359.3,535.2 359.8,533.3 360.3,531.7 360.8,530.3 361.4,529.2 361.9,528.4 362.4,527.9 362.9,527.7 363.4,527.8 363.9,528.0 364.4,528.5 364.9,529.1 365.5,529.8 366.0,530.7 366.5,531.7 367.0,532.9 367.5,534.1 368.0,535.4 368.5,536.7 369.0,538.1 369.6,539.5 370.1,540.9 370.6,542.2 371.1,543.5 371.6,544.7 372.1,545.9 372.6,546.9 373.1,547.8 373.7,548.5 374.2,549.1 374.7,549.6 375.2,549.8 375.7,549.9 376.2,549.8 376.7,549.5 377.3,549.1 377.8,548.5 378.3,547.8 378.8,546.9 379.3,545.9 379.9,544.9 380.4,543.7 380.9,542.5 381.4,541.4 381.9,540.2 382.4,539.0 383.0,538.0 383.5,537.0 384.0,536.1 384.5,535.4 385.0,534.8 385.6,534.4 386.1,534.1 386.6,534.0 387.1,534.0 387.6,534.1 388.1,534.3 388.6,534.6 389.1,534.9 389.6,535.3 390.1,535.7 390.6,536.2 391.1,536.7 391.6,537.3 392.1,537.9 392.6,538.6 393.1,539.2 393.6,539.9 394.2,540.6 394.7,541.3 395.2,541.9 395.7,542.6 396.2,543.2 396.7,543.8 397.2,544.3 397.7,544.8 398.2,545.2 398.7,545.6 399.2,545.9 399.7,546.2 400.2,546.4 400.7,546.5 401.2,546.5 401.7,546.4 402.2,546.3 402.8,546.0 403.3,545.7 403.8,545.2 404.3,544.7 404.8,544.1 405.3,543.5 405.9,542.8 406.4,542.1 406.9,541.4 407.4,540.6 407.9,539.9 408.5,539.2 409.0,538.6 409.5,538.0 410.0,537.5 410.5,537.0 411.0,536.7 411.6,536.4 412.1,536.3 412.6,536.2 413.1,536.3 413.6,536.4 414.2,536.7 414.7,537.1 415.2,537.6 415.7,538.1 416.2,538.8 416.8,539.5 417.3,540.2 417.8,541.0 418.3,541.7 418.8,542.5 419.3,543.2 419.9,543.9 420.4,544.6 420.9,545.1 421.4,545.6 421.9,546.0 422.5,546.3 423.0,546.4 423.5,546.5 424.0,546.4 424.5,546.3 425.0,546.0 425.6,545.6 426.1,545.1 426.6,544.6 427.1,544.0 427.6,543.3 428.1,542.6 428.6,541.9 429.2,541.1 429.7,540.4 430.2,539.7 430.7,539.1 431.2,538.6 431.7,538.1 432.3,537.7 432.8,537.4 433.3,537.3 433.8,537.2 434.3,537.2 434.8,537.3 435.4,537.5 435.9,537.7 436.4,538.0 436.9,538.3 437.4,538.7 437.9,539.1 438.5,539.5 439.0,539.9 439.5,540.4 440.0,540.9 440.5,541.3 441.1,541.7 441.6,542.1 442.1,542.5 442.6,542.8 443.1,543.1 443.6,543.3 444.2,543.5 444.7,543.6 445.2,543.6" fill="none" stroke="#1fbbe6" stroke-width="1.95" stroke-linejoin="round" stroke-linecap="round" clip-path="url(#clipb)"/>
<polyline points="102.1,599.7 102.6,599.8 103.1,599.9 103.6,600.2 104.1,600.6 104.6,601.0 105.1,601.5 105.6,602.1 106.1,602.6 106.6,603.2 107.1,603.7 107.6,604.1 108.1,604.5 108.6,604.8 109.1,604.9 109.6,605.0 109.9,604.8 110.3,604.5 110.8,604.1 111.4,603.7 111.9,603.3 112.5,602.8 113.1,602.3 113.7,601.7 114.3,601.0 114.9,600.4 115.5,599.8 116.0,599.2 116.5,598.7 116.9,598.3 117.3,598.0 117.7,597.6 118.1,597.1 118.5,596.5 119.0,595.7 119.5,594.7 120.0,593.7 120.5,592.7 121.0,591.7 121.5,591.0 122.0,590.5 122.6,590.0 123.1,589.7 123.7,589.5 124.1,589.3 124.4,589.1 124.9,589.2 125.4,589.6 125.9,590.3 126.4,591.1 126.9,592.2 127.4,593.5 127.9,594.9 128.4,596.5 128.9,598.1 129.4,599.8 130.0,601.4 130.5,603.0 131.0,604.6 131.5,606.0 132.0,607.3 132.5,608.4 133.0,609.2 133.5,609.9 134.0,610.3 134.5,610.4 135.0,610.3 135.5,610.1 136.0,609.8 136.5,609.3 137.0,608.8 137.5,608.1 138.0,607.3 138.5,606.4 139.0,605.4 139.5,604.4 140.0,603.3 140.5,602.2 141.0,601.1 141.5,600.0 142.0,598.9 142.5,597.8 143.0,596.8 143.5,595.8 144.0,594.9 144.5,594.1 145.0,593.4 145.5,592.9 146.0,592.4 146.5,592.1 147.0,591.9 147.5,591.8 148.0,591.9 148.5,592.0 149.0,592.3 149.5,592.7 150.0,593.1 150.5,593.7 151.0,594.4 151.5,595.1 152.0,595.9 152.5,596.7 153.0,597.6 153.5,598.5 154.0,599.5 154.5,600.4 155.0,601.4 155.5,602.3 156.0,603.2 156.5,604.0 157.0,604.8 157.5,605.5 158.0,606.2 158.5,606.8 159.0,607.2 159.5,607.6 160.0,607.9 160.5,608.0 161.0,608.1 161.5,608.0 162.0,607.7 162.5,607.3 163.0,606.6 163.5,605.9 164.0,604.9 164.5,603.9 165.0,602.8 165.5,601.5 166.0,600.3 166.6,599.0 167.1,597.6 167.6,596.4 168.1,595.1 168.6,594.0 169.1,593.0 169.6,592.0 170.1,591.3 170.6,590.6 171.1,590.2 171.6,589.9 172.1,589.8 172.6,589.8 173.1,590.0 173.6,590.2 174.1,590.4 174.6,590.8 175.1,591.2 175.6,591.7 176.1,592.2 176.6,592.8 177.1,593.4 177.6,594.1 178.1,594.9 178.6,595.6 179.1,596.4 179.6,597.2 180.1,598.0 180.7,598.9 181.2,599.7 181.7,600.5 182.2,601.3 182.7,602.0 183.2,602.8 183.7,603.5 184.2,604.1 184.7,604.7 185.2,605.2 185.7,605.7 186.2,606.1 186.7,606.5 187.2,606.7 187.7,606.9 188.2,607.1 188.7,607.1 189.2,607.0 189.7,606.8 190.2,606.5 190.8,606.1 191.3,605.6 191.8,604.9 192.3,604.2 192.8,603.3 193.3,602.4 193.9,601.5 194.4,600.4 194.9,599.4 195.4,598.4 195.9,597.3 196.4,596.3 196.9,595.2 197.5,594.3 198.0,593.4 198.5,592.5 199.0,591.8 199.5,591.1 200.0,590.6 200.6,590.2 201.1,589.9 201.6,589.7 202.1,589.6 202.6,589.7 203.1,589.9 203.6,590.3 204.1,590.8 204.6,591.4 205.1,592.2 205.6,593.1 206.1,594.1 206.6,595.2 207.1,596.4 207.6,597.7 208.1,599.0 208.6,600.3 209.1,601.7 209.7,603.1 210.2,604.5 210.7,605.8 211.2,607.1 211.7,608.4 212.2,609.6 212.7,610.7 213.2,611.7 213.7,612.6 214.2,613.4 214.7,614.0 215.2,614.5 215.7,614.9 216.2,615.1 216.7,615.2 217.2,615.1 217.7,614.7 218.2,614.1 218.7,613.2 219.2,612.1 219.7,610.8 220.3,609.4 220.8,607.7 221.3,606.0 221.8,604.1 222.3,602.1 222.8,600.1 223.3,598.1 223.8,596.1 224.3,594.1 224.8,592.2 225.3,590.5 225.8,588.8 226.4,587.4 226.9,586.1 227.4,585.0 227.9,584.1 228.4,583.5 228.9,583.1 229.4,583.0 229.9,583.1 230.4,583.5 230.9,584.1 231.5,584.9 232.0,586.0 232.5,587.2 233.0,588.6 233.5,590.2 234.0,591.9 234.6,593.7 235.1,595.6 235.6,597.5 236.1,599.4 236.6,601.3 237.1,603.2 237.7,605.0 238.2,606.7 238.7,608.3 239.2,609.7 239.7,610.9 240.2,612.0 240.8,612.8 241.3,613.4 241.8,613.8 242.3,613.9 242.8,613.8 243.3,613.4 243.8,612.9 244.3,612.1 244.8,611.1 245.3,609.9 245.8,608.6 246.3,607.2 246.8,605.6 247.3,603.9 247.8,602.3 248.4,600.5 248.9,598.9 249.4,597.2 249.9,595.6 250.4,594.2 250.9,592.9 251.4,591.7 251.9,590.7 252.4,589.9 252.9,589.4 253.4,589.0 253.9,588.9 254.3,589.3 254.8,589.8 255.5,590.4 256.2,591.1 256.9,591.8 257.5,592.5 258.1,593.2 258.7,594.1 259.3,594.9 259.8,595.7 260.4,596.4 261.0,597.0 261.6,597.4 262.2,597.7 262.8,597.8 263.3,598.0 263.9,598.1 264.5,598.2 265.1,598.3 265.7,598.3 266.2,598.3 266.8,598.4 267.4,598.5 268.0,598.8 268.6,599.2 269.2,599.8 269.8,600.5 270.4,601.2 270.9,601.8 271.5,602.5 272.0,603.1 272.6,603.8 273.1,604.5 273.5,605.1 274.0,605.7 274.5,606.2 275.0,606.6 275.5,606.9 276.0,607.2 276.4,607.5 276.8,607.7 277.1,607.8 277.6,607.7 278.1,607.5 278.6,607.1 279.2,606.5 279.7,605.8 280.2,604.9 280.7,603.9 281.2,602.8 281.7,601.6 282.2,600.3 282.8,599.0 283.3,597.6 283.8,596.1 284.3,594.7 284.8,593.2 285.3,591.8 285.9,590.5 286.4,589.2 286.9,588.0 287.4,586.9 287.9,585.9 288.4,585.0 288.9,584.3 289.5,583.7 290.0,583.3 290.5,583.1 291.0,583.0 291.5,583.2 292.0,583.6 292.5,584.4 293.0,585.5 293.5,586.8 294.0,588.4 294.5,590.3 295.0,592.3 295.5,594.5 296.0,596.9 296.5,599.3 297.0,601.8 297.6,604.3 298.1,606.8 298.6,609.2 299.1,611.6 299.6,613.8 300.1,615.8 300.6,617.7 301.1,619.3 301.6,620.6 302.1,621.7 302.6,622.5 303.1,622.9 303.6,623.1 304.1,622.9 304.6,622.1 305.1,620.9 305.7,619.3 306.2,617.2 306.7,614.8 307.2,612.0 307.7,608.9 308.2,605.6 308.7,602.2 309.2,598.6 309.8,595.0 310.3,591.4 310.8,588.0 311.3,584.7 311.8,581.6 312.3,578.8 312.8,576.4 313.3,574.3 313.9,572.7 314.4,571.5 314.9,570.7 315.4,570.5 315.9,570.8 316.4,571.5 316.9,572.7 317.5,574.4 318.0,576.6 318.5,579.1 319.0,581.9 319.5,585.1 320.0,588.5 320.5,592.0 321.0,595.7 321.6,599.3 322.1,603.0 322.6,606.5 323.1,609.9 323.6,613.1 324.1,615.9 324.6,618.4 325.1,620.6 325.7,622.3 326.2,623.5 326.7,624.2 327.2,624.5 327.7,624.3 328.2,623.7 328.7,622.8 329.2,621.5 329.7,619.8 330.2,617.9 330.7,615.6 331.2,613.2 331.7,610.5 332.2,607.6 332.7,604.6 333.2,601.6 333.8,598.5 334.3,595.5 334.8,592.5 335.3,589.6 335.8,586.9 336.3,584.5 336.8,582.2 337.3,580.3 337.8,578.6 338.3,577.3 338.8,576.4 339.3,575.8 339.8,575.6 340.3,575.8 340.8,576.4 341.3,577.4 341.8,578.7 342.3,580.4 342.8,582.4 343.3,584.7 343.8,587.2 344.3,589.8 344.8,592.6 345.3,595.5 345.8,598.5 346.3,601.4 346.8,604.2 347.3,606.8 347.8,609.3 348.3,611.6 348.8,613.6 349.3,615.3 349.8,616.6 350.3,617.6 350.8,618.2 351.3,618.4 351.8,618.3 352.3,617.8 352.8,617.1 353.4,616.1 353.9,614.9 354.4,613.5 354.9,611.8 355.4,610.0 355.9,608.0 356.4,605.9 356.9,603.7 357.5,601.6 358.0,599.4 358.5,597.2 359.0,595.1 359.5,593.1 360.0,591.3 360.5,589.6 361.0,588.2 361.6,587.0 362.1,586.0 362.6,585.3 363.1,584.8 363.6,584.7 364.1,584.8 364.6,585.3 365.2,585.9 365.7,586.9 366.2,588.1 366.7,589.4 367.2,591.0 367.8,592.7 368.3,594.5 368.8,596.4 369.3,598.2 369.8,600.1 370.3,601.9 370.9,603.6 371.4,605.2 371.9,606.5 372.4,607.7 372.9,608.7 373.5,609.3 374.0,609.8 374.5,609.9 375.0,609.8 375.5,609.6 376.0,609.3 376.5,608.8 377.0,608.3 377.5,607.6 378.0,606.8 378.5,606.0 379.0,605.0 379.5,604.0 380.0,603.0 380.5,601.9 381.0,600.9 381.5,599.8 382.0,598.8 382.5,597.8 383.0,596.8 383.5,596.0 384.0,595.2 384.5,594.5 385.0,594.0 385.5,593.5 386.0,593.2 386.5,593.0 387.0,592.9 387.5,592.9 388.0,593.0 388.5,593.2 389.1,593.5 389.6,593.8 390.1,594.2 390.6,594.6 391.1,595.1 391.6,595.6 392.1,596.2 392.7,596.8 393.2,597.4 393.7,598.1 394.2,598.7 394.7,599.4 395.2,600.0 395.7,600.7 396.2,601.3 396.8,601.9 397.3,602.5 397.8,603.0 398.3,603.5 398.8,603.9 399.3,604.3 399.8,604.6 400.4,604.9 400.9,605.1 401.4,605.2 401.9,605.2 402.4,605.2 402.9,605.1 403.4,604.9 403.9,604.7 404.4,604.4 404.9,604.1 405.4,603.7 405.9,603.3 406.4,602.8 406.9,602.3 407.4,601.8 407.9,601.2 408.4,600.6 408.9,600.0 409.4,599.4 410.0,598.7 410.5,598.1 411.0,597.5 411.5,596.9 412.0,596.3 412.5,595.8 413.0,595.3 413.5,594.8 414.0,594.4 414.5,594.0 415.0,593.7 415.5,593.4 416.0,593.2 416.5,593.0 417.0,592.9 417.5,592.9 418.0,593.0 418.5,593.2 419.0,593.5 419.5,594.0 420.0,594.6 420.5,595.3 421.0,596.1 421.5,597.0 422.0,598.0 422.5,599.0 423.0,600.0 423.6,601.0 424.1,602.0 424.6,603.0 425.1,604.0 425.6,604.9 426.1,605.7 426.6,606.4 427.1,607.0 427.6,607.5 428.1,607.8 428.6,608.0 429.1,608.1 429.6,608.0 430.1,607.8 430.7,607.4 431.2,606.9 431.7,606.2 432.2,605.4 432.7,604.5 433.2,603.5 433.8,602.4 434.3,601.2 434.8,600.1 435.3,598.9 435.8,597.6 436.3,596.5 436.9,595.3 437.4,594.2 437.9,593.2 438.4,592.3 438.9,591.5 439.4,590.8 439.9,590.3 440.5,589.9 441.0,589.7 441.5,589.6 442.0,589.6 442.5,589.8 443.0,590.0 443.5,590.2 444.0,590.4 444.5,590.6 445.0,590.6" fill="none" stroke="#4a18d4" stroke-width="1.95" stroke-linejoin="round" stroke-linecap="round" clip-path="url(#clipb)"/>
<line x1="103.4" y1="599.4" x2="108.4" y2="599.4" stroke="#000" stroke-width="1.2"/>
<text x="97.4" y="603.2" font-size="21" text-anchor="end">0.0</text>
<line x1="103.4" y1="515.0" x2="108.4" y2="515.0" stroke="#000" stroke-width="1.2"/>
<text x="97.4" y="518.8" font-size="21" text-anchor="end">0.2</text>
<line x1="103.4" y1="430.6" x2="108.4" y2="430.6" stroke="#000" stroke-width="1.2"/>
<text x="97.4" y="434.4" font-size="21" text-anchor="end">0.4</text>
<line x1="123.5" y1="632.6" x2="123.5" y2="627.6" stroke="#000" stroke-width="1.2"/>
<text x="126.5" y="650.6" font-size="21" text-anchor="middle">460</text>
<line x1="163.5" y1="632.6" x2="163.5" y2="627.6" stroke="#000" stroke-width="1.2"/>
<text x="166.5" y="650.6" font-size="21" text-anchor="middle">480</text>
<line x1="203.5" y1="632.6" x2="203.5" y2="627.6" stroke="#000" stroke-width="1.2"/>
<text x="206.5" y="650.6" font-size="21" text-anchor="middle">500</text>
<line x1="243.5" y1="632.6" x2="243.5" y2="627.6" stroke="#000" stroke-width="1.2"/>
<text x="246.5" y="650.6" font-size="21" text-anchor="middle">520</text>
<line x1="283.5" y1="632.6" x2="283.5" y2="627.6" stroke="#000" stroke-width="1.2"/>
<text x="286.5" y="650.6" font-size="21" text-anchor="middle">540</text>
<line x1="323.5" y1="632.6" x2="323.5" y2="627.6" stroke="#000" stroke-width="1.2"/>
<text x="326.5" y="650.6" font-size="21" text-anchor="middle">560</text>
<line x1="363.5" y1="632.6" x2="363.5" y2="627.6" stroke="#000" stroke-width="1.2"/>
<text x="366.5" y="650.6" font-size="21" text-anchor="middle">580</text>
<line x1="403.5" y1="632.6" x2="403.5" y2="627.6" stroke="#000" stroke-width="1.2"/>
<text x="406.5" y="650.6" font-size="21" text-anchor="middle">600</text>
<text x="446.5" y="650.6" font-size="21" text-anchor="middle">620</text>
<text x="50.0" y="397.8" font-size="33" text-anchor="start">(b)</text>
<text x="141.0" y="407.0" font-size="23.6" text-anchor="start">h/2e oscillations</text>
<text x="369.7" y="409.1" font-size="18" text-anchor="start">1.65 K</text>
<text x="379.2" y="465.1" font-size="18" text-anchor="start">1.6 K</text>
<text x="369.7" y="523.4" font-size="18" text-anchor="start">1.55 K</text>
<text x="382.0" y="580.6" font-size="18" text-anchor="start">1.5 K</text>
<text x="288.6" y="676.2" font-size="23" text-anchor="middle"><tspan font-style="italic">H</tspan> (Oe)</text>
<text x="55.6" y="492.5" font-size="24" text-anchor="middle" transform="rotate(-90 55.6 492.5)">&#916;<tspan font-style="italic">R</tspan> (&#937;)</text>
<clipPath id="clipc"><rect x="130.6" y="696.4" width="302.9" height="243.0"/></clipPath>
<rect x="328.3" y="768.0" width="5.6" height="5.6" fill="#4f4f4f"/>
<rect x="334.3" y="762.9" width="5.6" height="5.6" fill="#4f4f4f"/>
<rect x="340.2" y="757.8" width="5.6" height="5.6" fill="#4f4f4f"/>
<rect x="346.2" y="752.7" width="5.6" height="5.6" fill="#4f4f4f"/>
<rect x="352.2" y="747.6" width="5.6" height="5.6" fill="#4f4f4f"/>
<rect x="358.2" y="742.5" width="5.6" height="5.6" fill="#4f4f4f"/>
<rect x="364.1" y="737.4" width="5.6" height="5.6" fill="#4f4f4f"/>
<rect x="370.1" y="732.3" width="5.6" height="5.6" fill="#4f4f4f"/>
<rect x="376.1" y="727.2" width="5.6" height="5.6" fill="#4f4f4f"/>
<rect x="382.0" y="722.1" width="5.6" height="5.6" fill="#4f4f4f"/>
<rect x="388.0" y="716.9" width="5.6" height="5.6" fill="#4f4f4f"/>
<rect x="394.0" y="711.8" width="5.6" height="5.6" fill="#4f4f4f"/>
<rect x="399.9" y="706.7" width="5.6" height="5.6" fill="#4f4f4f"/>
<line x1="133.8" y1="939.4" x2="432.3" y2="683.6" stroke="#dc3030" stroke-width="1.0" clip-path="url(#clipc)"/>
<rect x="130.6" y="696.4" width="302.9" height="243.0" fill="none" stroke="#333" stroke-width="1.2"/>
<text x="122.8" y="942.7" font-size="22.5" text-anchor="end">0</text>
<line x1="130.6" y1="901.9" x2="135.6" y2="901.9" stroke="#000" stroke-width="1.2"/>
<text x="122.8" y="905.2" font-size="22.5" text-anchor="end">100</text>
<line x1="130.6" y1="864.5" x2="135.6" y2="864.5" stroke="#000" stroke-width="1.2"/>
<text x="122.8" y="867.8" font-size="22.5" text-anchor="end">200</text>
<line x1="130.6" y1="827.0" x2="135.6" y2="827.0" stroke="#000" stroke-width="1.2"/>
<text x="122.8" y="830.3" font-size="22.5" text-anchor="end">300</text>
<line x1="130.6" y1="789.6" x2="135.6" y2="789.6" stroke="#000" stroke-width="1.2"/>
<text x="122.8" y="792.9" font-size="22.5" text-anchor="end">400</text>
<line x1="130.6" y1="752.1" x2="135.6" y2="752.1" stroke="#000" stroke-width="1.2"/>
<text x="122.8" y="755.4" font-size="22.5" text-anchor="end">500</text>
<line x1="130.6" y1="714.7" x2="135.6" y2="714.7" stroke="#000" stroke-width="1.2"/>
<text x="122.8" y="718.0" font-size="22.5" text-anchor="end">600</text>
<line x1="133.8" y1="939.4" x2="133.8" y2="934.4" stroke="#000" stroke-width="1.2"/>
<text x="136.7" y="963.8" font-size="24" text-anchor="middle">0</text>
<line x1="193.5" y1="939.4" x2="193.5" y2="934.4" stroke="#000" stroke-width="1.2"/>
<text x="200.1" y="963.8" font-size="24" text-anchor="middle">10</text>
<line x1="253.2" y1="939.4" x2="253.2" y2="934.4" stroke="#000" stroke-width="1.2"/>
<text x="259.8" y="963.8" font-size="24" text-anchor="middle">20</text>
<line x1="312.9" y1="939.4" x2="312.9" y2="934.4" stroke="#000" stroke-width="1.2"/>
<text x="319.5" y="963.8" font-size="24" text-anchor="middle">30</text>
<line x1="372.6" y1="939.4" x2="372.6" y2="934.4" stroke="#000" stroke-width="1.2"/>
<text x="379.2" y="963.8" font-size="24" text-anchor="middle">40</text>
<text x="438.9" y="963.8" font-size="24" text-anchor="middle">50</text>
<text x="45.5" y="711.0" font-size="33" text-anchor="start">(c)</text>
<text x="285.3" y="988.2" font-size="26" text-anchor="middle">n</text>
<text x="78.9" y="793" font-size="27" text-anchor="middle" transform="rotate(-90 78.9 793)"><tspan font-style="italic">H</tspan><tspan font-style="italic" font-size="21" dy="2.5">n</tspan><tspan dy="-2.5" dx="4"> (Oe)</tspan></text>
<rect x="157.5" y="708.2" width="4.8" height="4.8" fill="#4f4f4f"/>
<text x="175.5" y="714.2" font-size="23" text-anchor="start">2e</text>
<line x1="146.6" y1="740.2" x2="172.5" y2="740.2" stroke="#dc3030" stroke-width="0.9"/>
<text x="176.5" y="743.7" font-size="23.6" text-anchor="start">linear fitting</text>
<line x1="640.6" y1="51.3" x2="640.6" y2="419.6" stroke="#111" stroke-width="1.1" stroke-dasharray="2.0 1.6"/>
<rect x="606.4" y="51.3" width="134.4" height="368.3" fill="none" stroke="#000" stroke-width="1.5"/>
<polyline points="606.4,129.2 616.8,129.2 621.0,131.2 626.9,127.5 632.8,125.5 636.2,83.7 640.4,72.3 644.1,75.6 647.6,109.0 651.3,117.4 655.1,131.2 658.6,118.7 662.3,127.8 666.5,127.8 670.4,126.1 674.1,128.8 680.8,130.0 692.6,130.0 696.3,128.7 700.2,132.2 703.5,130.4 707.7,132.2 711.1,131.4 715.3,132.9 721.2,132.0 726.3,132.2 729.6,131.5 734.7,132.2 741.5,132.5" fill="none" stroke="#e05f20" stroke-width="2.2" stroke-linejoin="miter" stroke-linecap="round"/>
<polyline points="606.4,212.5 614.3,212.0 618.5,207.1 622.7,205.8 626.9,199.4 631.1,198.2 635.4,149.4 639.9,155.6 644.1,154.1 648.0,172.9 652.2,203.2 656.4,208.3 660.6,204.1 664.8,211.7 673.2,210.8 680.8,212.8 692.6,214.2 701.9,213.9 706.1,212.2 711.1,213.7 731.3,214.2 744.8,213.4" fill="none" stroke="#6ade1e" stroke-width="2.2" stroke-linejoin="miter" stroke-linecap="round"/>
<polyline points="606.4,295.0 614.3,295.0 619.4,288.2 623.6,285.7 627.8,290.3 636.2,240.3 641.2,239.7 645.5,243.6 649.7,275.6 653.9,287.4 658.1,287.1 662.6,290.8 666.8,286.5 671.2,292.8 675.8,295.3 679.5,291.1 684.2,292.4 687.5,291.9 692.6,293.3 705.2,292.4 710.3,295.0 717.8,294.6 724.6,293.8 734.7,294.5 744.8,294.1" fill="none" stroke="#1fbbe6" stroke-width="2.2" stroke-linejoin="miter" stroke-linecap="round"/>
<polyline points="606.4,377.0 618.5,377.0 625.3,374.9 630.8,367.0 637.4,311.3 643.4,317.2 649.3,358.6 655.6,367.7 661.8,360.1 667.3,366.5 674.1,370.2 680.8,368.5 686.7,368.5 692.3,375.8 704.4,377.0 717.8,378.3 729.6,377.1 735.5,375.4 741.4,377.0" fill="none" stroke="#4a18d4" stroke-width="2.2" stroke-linejoin="miter" stroke-linecap="round"/>
<line x1="606.4" y1="378.4" x2="613.8" y2="378.4" stroke="#000" stroke-width="1.6"/>
<line x1="606.4" y1="296.7" x2="613.8" y2="296.7" stroke="#000" stroke-width="1.6"/>
<line x1="606.4" y1="215.0" x2="613.8" y2="215.0" stroke="#000" stroke-width="1.6"/>
<line x1="606.4" y1="133.3" x2="613.8" y2="133.3" stroke="#000" stroke-width="1.6"/>
<text x="601.4" y="382.8" font-size="20" text-anchor="end">0</text>
<text x="601.4" y="301.1" font-size="20" text-anchor="end">1</text>
<text x="601.4" y="219.4" font-size="20" text-anchor="end">2</text>
<text x="601.4" y="137.7" font-size="20" text-anchor="end">3</text>
<text x="601.4" y="56.0" font-size="20" text-anchor="end">4</text>
<line x1="640.6" y1="419.6" x2="640.6" y2="413.6" stroke="#000" stroke-width="1.5"/>
<text x="640.9" y="438.8" font-size="20" text-anchor="middle">1</text>
<text x="741.5" y="438.8" font-size="20" text-anchor="middle">4</text>
<text x="519.0" y="58.0" font-size="33" text-anchor="start">(d)</text>
<text x="682.0" y="121.6" font-size="20.6" text-anchor="start">1.65 K</text>
<text x="683.4" y="206.6" font-size="20.6" text-anchor="start">1.60 K</text>
<text x="684.6" y="285.7" font-size="20.6" text-anchor="start">1.55 K</text>
<text x="685.3" y="358.1" font-size="20.6" text-anchor="start">1.50 K</text>
<text x="576.5" y="219.2" font-size="24" text-anchor="middle" transform="rotate(-90 576.5 219.2)">amplitude (a.u.)</text>
<text x="632.4" y="461.0" font-size="22.6">1/<tspan font-style="italic">&#934;</tspan><tspan font-size="11.5" dy="4.6">0</tspan><tspan dy="-4.6"> (2e/h)</tspan></text>
<clipPath id="clipe"><rect x="548.3" y="487.6" width="288.70000000000005" height="460.69999999999993"/></clipPath>
<line x1="568.6" y1="487.6" x2="568.6" y2="948.3" stroke="#6e6e6e" stroke-width="1.0"/>
<line x1="598.8" y1="487.6" x2="598.8" y2="948.3" stroke="#6e6e6e" stroke-width="1.0"/>
<line x1="627.3" y1="487.6" x2="627.3" y2="948.3" stroke="#6e6e6e" stroke-width="1.0"/>
<line x1="654.8" y1="487.6" x2="654.8" y2="948.3" stroke="#6e6e6e" stroke-width="1.0"/>
<line x1="680.5" y1="487.6" x2="680.5" y2="948.3" stroke="#6e6e6e" stroke-width="1.0"/>
<line x1="705.5" y1="487.6" x2="705.5" y2="948.3" stroke="#6e6e6e" stroke-width="1.0"/>
<line x1="732.1" y1="487.6" x2="732.1" y2="948.3" stroke="#6e6e6e" stroke-width="1.0"/>
<line x1="757.8" y1="487.6" x2="757.8" y2="948.3" stroke="#6e6e6e" stroke-width="1.0"/>
<line x1="785.4" y1="487.6" x2="785.4" y2="948.3" stroke="#6e6e6e" stroke-width="1.0"/>
<line x1="814.7" y1="487.6" x2="814.7" y2="948.3" stroke="#6e6e6e" stroke-width="1.0"/>
<line x1="554.5" y1="489.6" x2="554.5" y2="948.3" stroke="#111" stroke-width="1.05" stroke-dasharray="2.7 2.2"/>
<line x1="583.2" y1="489.6" x2="583.2" y2="948.3" stroke="#111" stroke-width="1.05" stroke-dasharray="2.7 2.2"/>
<line x1="613.7" y1="489.6" x2="613.7" y2="948.3" stroke="#111" stroke-width="1.05" stroke-dasharray="2.7 2.2"/>
<line x1="640.5" y1="489.6" x2="640.5" y2="948.3" stroke="#111" stroke-width="1.05" stroke-dasharray="2.7 2.2"/>
<line x1="666.7" y1="489.6" x2="666.7" y2="948.3" stroke="#111" stroke-width="1.05" stroke-dasharray="2.7 2.2"/>
<line x1="692.7" y1="489.6" x2="692.7" y2="948.3" stroke="#111" stroke-width="1.05" stroke-dasharray="2.7 2.2"/>
<line x1="718.6" y1="489.6" x2="718.6" y2="948.3" stroke="#111" stroke-width="1.05" stroke-dasharray="2.7 2.2"/>
<line x1="744.5" y1="489.6" x2="744.5" y2="948.3" stroke="#111" stroke-width="1.05" stroke-dasharray="2.7 2.2"/>
<line x1="771.4" y1="489.6" x2="771.4" y2="948.3" stroke="#111" stroke-width="1.05" stroke-dasharray="2.7 2.2"/>
<line x1="800.4" y1="489.6" x2="800.4" y2="948.3" stroke="#111" stroke-width="1.05" stroke-dasharray="2.7 2.2"/>
<line x1="826.5" y1="489.6" x2="826.5" y2="948.3" stroke="#111" stroke-width="1.05" stroke-dasharray="2.7 2.2"/>
<rect x="550.3" y="487.6" width="285.2" height="460.7" fill="none" stroke="#000" stroke-width="1.8"/>
<polyline points="549.0,535.2 549.5,535.2 550.0,535.1 550.5,535.1 551.0,535.0 551.5,534.8 552.0,534.7 552.5,534.5 553.0,534.3 553.5,534.0 554.0,533.8 554.5,533.5 555.0,533.2 555.5,532.9 556.0,532.6 556.5,532.3 557.0,531.9 557.5,531.6 558.0,531.3 558.5,530.9 559.0,530.6 559.5,530.3 560.0,530.0 560.5,529.7 561.0,529.4 561.5,529.2 562.0,528.9 562.5,528.7 563.0,528.5 563.5,528.4 564.0,528.2 564.5,528.1 565.0,528.1 565.5,528.0 566.0,528.0 566.5,528.0 567.0,528.0 567.5,528.1 568.0,528.1 568.5,528.2 569.0,528.3 569.5,528.4 570.0,528.5 570.5,528.6 571.0,528.7 571.5,528.9 572.0,529.0 572.5,529.2 573.0,529.4 573.5,529.5 574.0,529.7 574.5,529.9 575.0,530.1 575.5,530.3 576.0,530.5 576.5,530.7 577.1,531.0 577.6,531.2 578.1,531.4 578.6,531.6 579.1,531.8 579.6,532.0 580.1,532.2 580.6,532.3 581.1,532.5 581.6,532.7 582.1,532.8 582.6,533.0 583.1,533.1 583.6,533.2 584.1,533.3 584.6,533.4 585.1,533.5 585.6,533.6 586.1,533.6 586.6,533.7 587.1,533.7 587.6,533.7 588.1,533.7 588.6,533.6 589.1,533.6 589.6,533.4 590.1,533.3 590.6,533.1 591.1,532.9 591.6,532.7 592.1,532.5 592.6,532.2 593.1,531.9 593.6,531.7 594.1,531.4 594.6,531.1 595.1,530.8 595.6,530.4 596.1,530.1 596.6,529.8 597.1,529.6 597.6,529.3 598.1,529.0 598.6,528.8 599.1,528.6 599.6,528.4 600.1,528.2 600.6,528.1 601.1,527.9 601.6,527.9 602.1,527.8 602.6,527.8 603.1,527.8 603.6,527.9 604.1,528.0 604.6,528.1 605.1,528.3 605.6,528.5 606.1,528.8 606.6,529.1 607.1,529.4 607.6,529.7 608.1,530.0 608.6,530.4 609.1,530.8 609.6,531.2 610.1,531.5 610.6,531.9 611.1,532.3 611.6,532.7 612.1,533.0 612.6,533.3 613.1,533.6 613.6,533.9 614.1,534.2 614.6,534.4 615.1,534.6 615.6,534.7 616.1,534.8 616.6,534.9 617.1,534.9 617.6,534.9 618.1,534.8 618.6,534.7 619.1,534.6 619.6,534.4 620.1,534.2 620.6,533.9 621.1,533.7 621.6,533.4 622.1,533.0 622.6,532.7 623.1,532.3 623.6,532.0 624.2,531.6 624.7,531.3 625.2,530.9 625.7,530.6 626.2,530.2 626.7,529.9 627.2,529.7 627.7,529.4 628.2,529.2 628.7,529.0 629.2,528.9 629.7,528.8 630.2,528.7 630.7,528.7 631.2,528.7 631.7,528.8 632.2,529.0 632.7,529.2 633.2,529.5 633.8,529.8 634.3,530.1 634.8,530.5 635.3,530.9 635.8,531.4 636.3,531.8 636.8,532.2 637.3,532.7 637.8,533.1 638.3,533.5 638.8,533.8 639.4,534.1 639.9,534.4 640.4,534.6 640.9,534.8 641.4,534.9 641.9,534.9 642.4,534.8 642.9,534.7 643.4,534.4 643.9,534.0 644.4,533.6 645.0,533.1 645.5,532.5 646.0,531.8 646.5,531.1 647.0,530.4 647.5,529.6 648.0,528.9 648.5,528.2 649.0,527.6 649.5,526.9 650.1,526.4 650.6,526.0 651.1,525.6 651.6,525.3 652.1,525.2 652.6,525.1 653.1,525.1 653.6,525.3 654.1,525.4 654.6,525.7 655.1,526.0 655.6,526.4 656.1,526.9 656.6,527.4 657.1,527.9 657.6,528.5 658.1,529.2 658.6,529.8 659.1,530.5 659.7,531.1 660.2,531.8 660.7,532.5 661.2,533.1 661.7,533.8 662.2,534.4 662.7,534.9 663.2,535.4 663.7,535.9 664.2,536.3 664.7,536.6 665.2,536.9 665.7,537.0 666.2,537.2 666.7,537.2 667.2,537.2 667.7,537.0 668.2,536.8 668.7,536.5 669.2,536.1 669.7,535.6 670.2,535.1 670.7,534.5 671.2,533.8 671.7,533.1 672.2,532.4 672.7,531.6 673.2,530.9 673.8,530.1 674.3,529.3 674.8,528.6 675.3,527.9 675.8,527.2 676.3,526.6 676.8,526.1 677.3,525.6 677.8,525.2 678.3,524.9 678.8,524.7 679.3,524.5 679.8,524.5 680.3,524.6 680.8,524.7 681.3,525.0 681.8,525.4 682.3,525.9 682.8,526.5 683.3,527.1 683.8,527.9 684.3,528.7 684.8,529.5 685.3,530.4 685.8,531.3 686.4,532.2 686.9,533.1 687.4,534.0 687.9,534.8 688.4,535.6 688.9,536.4 689.4,537.0 689.9,537.6 690.4,538.1 690.9,538.5 691.4,538.8 691.9,538.9 692.4,539.0 692.9,538.9 693.4,538.7 693.9,538.4 694.5,538.0 695.0,537.4 695.5,536.8 696.0,536.1 696.5,535.2 697.0,534.4 697.5,533.5 698.0,532.5 698.6,531.6 699.1,530.6 699.6,529.7 700.1,528.9 700.6,528.0 701.1,527.3 701.6,526.7 702.1,526.1 702.7,525.7 703.2,525.4 703.7,525.2 704.2,525.1 704.7,525.1 705.2,525.2 705.7,525.4 706.2,525.6 706.7,525.9 707.2,526.3 707.8,526.7 708.3,527.1 708.8,527.6 709.3,528.1 709.8,528.6 710.3,529.2 710.8,529.8 711.3,530.4 711.8,531.0 712.3,531.6 712.8,532.2 713.3,532.7 713.8,533.2 714.3,533.7 714.9,534.1 715.4,534.5 715.9,534.9 716.4,535.2 716.9,535.4 717.4,535.6 717.9,535.7 718.4,535.7 718.9,535.7 719.4,535.5 719.9,535.3 720.5,534.9 721.0,534.5 721.5,534.0 722.0,533.5 722.5,532.8 723.0,532.2 723.5,531.5 724.0,530.8 724.6,530.0 725.1,529.3 725.6,528.6 726.1,528.0 726.6,527.3 727.1,526.8 727.6,526.3 728.1,525.9 728.7,525.5 729.2,525.3 729.7,525.1 730.2,525.1 730.7,525.1 731.2,525.3 731.7,525.5 732.2,525.8 732.7,526.1 733.2,526.6 733.7,527.0 734.2,527.6 734.7,528.2 735.2,528.8 735.7,529.5 736.2,530.2 736.7,530.9 737.3,531.7 737.8,532.4 738.3,533.1 738.8,533.8 739.3,534.4 739.8,535.0 740.3,535.6 740.8,536.0 741.3,536.5 741.8,536.8 742.3,537.1 742.8,537.3 743.3,537.5 743.8,537.5 744.3,537.5 744.8,537.4 745.3,537.2 745.8,536.9 746.3,536.6 746.9,536.3 747.4,535.8 747.9,535.3 748.4,534.8 748.9,534.2 749.4,533.6 749.9,533.0 750.4,532.4 750.9,531.7 751.5,531.0 752.0,530.3 752.5,529.6 753.0,529.0 753.5,528.4 754.0,527.8 754.5,527.2 755.0,526.7 755.5,526.2 756.0,525.7 756.5,525.4 757.1,525.1 757.6,524.8 758.1,524.6 758.6,524.5 759.1,524.5 759.6,524.5 760.1,524.7 760.6,524.9 761.1,525.2 761.6,525.7 762.1,526.1 762.6,526.7 763.1,527.3 763.6,528.0 764.1,528.7 764.6,529.4 765.1,530.2 765.7,531.0 766.2,531.8 766.7,532.6 767.2,533.3 767.7,534.0 768.2,534.7 768.7,535.3 769.2,535.9 769.7,536.3 770.2,536.8 770.7,537.1 771.2,537.3 771.7,537.5 772.2,537.5 772.7,537.5 773.2,537.4 773.7,537.3 774.2,537.1 774.7,536.9 775.2,536.6 775.7,536.3 776.2,535.9 776.7,535.5 777.2,535.1 777.7,534.6 778.2,534.1 778.7,533.6 779.2,533.1 779.7,532.6 780.2,532.0 780.7,531.5 781.2,530.9 781.7,530.4 782.2,529.9 782.7,529.4 783.2,528.9 783.7,528.4 784.2,528.0 784.7,527.6 785.2,527.2 785.7,526.9 786.2,526.6 786.7,526.4 787.2,526.2 787.7,526.1 788.2,526.0 788.7,526.0 789.2,526.0 789.7,526.1 790.2,526.3 790.7,526.5 791.2,526.7 791.7,527.0 792.2,527.3 792.8,527.7 793.3,528.1 793.8,528.6 794.3,529.0 794.8,529.5 795.3,530.0 795.8,530.5 796.3,531.1 796.8,531.6 797.3,532.1 797.8,532.5 798.3,533.0 798.8,533.4 799.4,533.8 799.9,534.1 800.4,534.4 800.9,534.6 801.4,534.8 801.9,535.0 802.4,535.1 802.9,535.1 803.4,535.1 803.9,535.0 804.4,534.9 804.9,534.7 805.4,534.5 805.9,534.3 806.4,534.0 806.9,533.7 807.4,533.3 807.9,532.9 808.4,532.6 808.9,532.2 809.4,531.8 809.9,531.3 810.4,530.9 810.9,530.6 811.4,530.2 811.9,529.8 812.4,529.5 812.9,529.2 813.4,529.0 813.9,528.8 814.4,528.6 814.9,528.5 815.4,528.4 815.9,528.4 816.4,528.4 816.9,528.5 817.4,528.6 818.0,528.7 818.5,528.9 819.0,529.1 819.5,529.4 820.0,529.7 820.5,530.0 821.0,530.3 821.5,530.6 822.1,530.9 822.6,531.2 823.1,531.5 823.6,531.8 824.1,532.1 824.6,532.4 825.1,532.6 825.6,532.8 826.2,532.9 826.7,533.0 827.2,533.1 827.7,533.1 828.2,533.1 828.7,533.1 829.2,533.0 829.7,532.9 830.2,532.8 830.7,532.8 831.2,532.6 831.7,532.5 832.2,532.4 832.8,532.3 833.3,532.2 833.8,532.1 834.3,532.0 834.8,531.9 835.3,531.8 835.8,531.7 836.3,531.7 836.8,531.7" fill="none" stroke="#e8421a" stroke-width="2.4" stroke-linejoin="round" stroke-linecap="round" clip-path="url(#clipe)"/>
<polyline points="548.8,605.6 549.3,605.6 549.8,605.5 550.3,605.3 550.8,605.0 551.3,604.7 551.8,604.3 552.3,603.8 552.9,603.3 553.4,602.8 553.9,602.2 554.4,601.5 554.9,600.8 555.4,600.1 555.9,599.4 556.4,598.7 556.9,597.9 557.4,597.2 557.9,596.5 558.4,595.8 558.9,595.1 559.4,594.4 559.9,593.8 560.4,593.3 561.0,592.8 561.5,592.3 562.0,591.9 562.5,591.6 563.0,591.3 563.5,591.1 564.0,591.0 564.5,591.0 565.0,591.0 565.5,591.1 566.0,591.3 566.5,591.6 567.0,591.9 567.5,592.2 568.0,592.6 568.6,593.1 569.1,593.6 569.6,594.2 570.1,594.8 570.6,595.4 571.1,596.0 571.6,596.6 572.1,597.2 572.6,597.8 573.1,598.4 573.6,599.0 574.1,599.6 574.6,600.1 575.2,600.6 575.7,601.0 576.2,601.3 576.7,601.6 577.2,601.9 577.7,602.1 578.2,602.2 578.7,602.2 579.2,602.2 579.7,602.1 580.2,601.9 580.7,601.7 581.3,601.5 581.8,601.2 582.3,600.9 582.8,600.5 583.3,600.1 583.8,599.7 584.3,599.2 584.8,598.8 585.4,598.3 585.9,597.9 586.4,597.4 586.9,597.0 587.4,596.6 587.9,596.2 588.4,595.9 588.9,595.6 589.5,595.4 590.0,595.2 590.5,595.0 591.0,594.9 591.5,594.9 592.0,594.9 592.6,595.0 593.1,595.0 593.6,595.1 594.1,595.2 594.7,595.4 595.2,595.5 595.7,595.5 596.3,595.6 596.8,595.6 597.3,595.6 597.8,595.5 598.3,595.4 598.9,595.3 599.4,595.2 599.9,595.0 600.4,594.8 600.9,594.7 601.5,594.6 602.0,594.5 602.5,594.4 603.0,594.4 603.5,594.4 604.0,594.6 604.5,594.8 605.0,595.1 605.5,595.4 606.0,595.8 606.5,596.3 607.0,596.9 607.5,597.4 608.0,598.1 608.5,598.7 609.0,599.4 609.6,600.0 610.1,600.7 610.6,601.3 611.1,602.0 611.6,602.5 612.1,603.1 612.6,603.6 613.1,604.0 613.6,604.3 614.1,604.6 614.6,604.8 615.1,605.0 615.6,605.0 616.1,604.9 616.6,604.7 617.1,604.4 617.6,604.0 618.1,603.5 618.6,602.8 619.1,602.1 619.6,601.3 620.1,600.4 620.6,599.5 621.1,598.5 621.7,597.6 622.2,596.6 622.7,595.6 623.2,594.7 623.7,593.8 624.2,593.0 624.7,592.3 625.2,591.6 625.7,591.1 626.2,590.7 626.7,590.4 627.2,590.2 627.7,590.1 628.2,590.1 628.7,590.2 629.2,590.4 629.7,590.6 630.3,590.9 630.8,591.2 631.3,591.6 631.8,592.1 632.3,592.6 632.8,593.1 633.3,593.6 633.8,594.2 634.3,594.8 634.8,595.4 635.4,596.0 635.9,596.6 636.4,597.2 636.9,597.8 637.4,598.3 637.9,598.8 638.4,599.3 638.9,599.8 639.4,600.2 639.9,600.5 640.5,600.8 641.0,601.0 641.5,601.2 642.0,601.3 642.5,601.3 643.0,601.3 643.5,601.2 644.0,601.1 644.5,600.9 645.0,600.6 645.5,600.3 646.0,600.0 646.5,599.6 647.0,599.2 647.5,598.8 648.0,598.4 648.5,597.9 649.0,597.4 649.6,597.0 650.1,596.5 650.6,596.0 651.1,595.6 651.6,595.1 652.1,594.8 652.6,594.4 653.1,594.1 653.6,593.8 654.1,593.5 654.6,593.3 655.1,593.2 655.6,593.1 656.1,593.1 656.6,593.2 657.1,593.3 657.6,593.6 658.2,594.0 658.7,594.4 659.2,595.0 659.7,595.6 660.2,596.3 660.7,597.1 661.2,597.8 661.7,598.6 662.3,599.5 662.8,600.3 663.3,601.0 663.8,601.8 664.3,602.5 664.8,603.1 665.3,603.7 665.8,604.1 666.4,604.5 666.9,604.8 667.4,604.9 667.9,605.0 668.4,604.9 668.9,604.7 669.4,604.4 669.9,604.0 670.5,603.4 671.0,602.7 671.5,602.0 672.0,601.1 672.5,600.2 673.0,599.2 673.5,598.1 674.0,597.0 674.5,596.0 675.1,594.9 675.6,593.8 676.1,592.7 676.6,591.7 677.1,590.8 677.6,589.9 678.1,589.2 678.6,588.5 679.2,587.9 679.7,587.5 680.2,587.2 680.7,587.0 681.2,586.9 681.7,587.0 682.2,587.3 682.7,587.7 683.2,588.3 683.7,589.1 684.2,590.0 684.7,591.0 685.2,592.1 685.7,593.4 686.2,594.6 686.7,596.0 687.2,597.3 687.7,598.7 688.2,600.1 688.7,601.3 689.2,602.6 689.7,603.7 690.2,604.7 690.7,605.6 691.2,606.4 691.7,607.0 692.2,607.4 692.7,607.7 693.2,607.8 693.7,607.7 694.2,607.5 694.7,607.2 695.3,606.7 695.8,606.1 696.3,605.4 696.8,604.6 697.3,603.8 697.8,602.8 698.3,601.7 698.9,600.6 699.4,599.5 699.9,598.3 700.4,597.2 700.9,596.0 701.4,594.9 702.0,593.8 702.5,592.7 703.0,591.7 703.5,590.9 704.0,590.1 704.5,589.4 705.0,588.8 705.6,588.3 706.1,588.0 706.6,587.8 707.1,587.7 707.6,587.8 708.1,588.0 708.6,588.3 709.1,588.8 709.6,589.4 710.1,590.0 710.6,590.8 711.1,591.7 711.6,592.7 712.1,593.7 712.6,594.7 713.1,595.8 713.6,596.9 714.1,598.0 714.6,599.0 715.1,600.0 715.6,601.0 716.1,601.9 716.6,602.7 717.1,603.3 717.6,603.9 718.1,604.4 718.6,604.7 719.1,604.9 719.6,605.0 720.1,604.9 720.6,604.7 721.1,604.4 721.7,604.0 722.2,603.4 722.7,602.8 723.2,602.0 723.7,601.2 724.2,600.3 724.7,599.4 725.2,598.5 725.8,597.5 726.3,596.6 726.8,595.7 727.3,594.8 727.8,594.0 728.3,593.2 728.8,592.6 729.3,592.0 729.9,591.6 730.4,591.3 730.9,591.1 731.4,591.0 731.9,591.0 732.4,591.1 732.9,591.2 733.4,591.4 733.9,591.6 734.4,591.8 734.9,592.1 735.4,592.5 735.9,592.8 736.4,593.2 736.9,593.7 737.4,594.1 737.9,594.6 738.4,595.1 738.9,595.6 739.4,596.1 739.9,596.6 740.4,597.1 740.9,597.6 741.4,598.1 741.9,598.6 742.4,599.0 742.9,599.5 743.4,599.9 743.9,600.2 744.4,600.6 744.9,600.9 745.4,601.1 745.9,601.3 746.4,601.5 746.9,601.6 747.4,601.7 747.9,601.7 748.4,601.7 748.9,601.6 749.4,601.4 749.9,601.2 750.4,600.9 750.9,600.5 751.5,600.1 752.0,599.7 752.5,599.2 753.0,598.7 753.5,598.2 754.0,597.6 754.5,597.1 755.0,596.5 755.5,596.0 756.0,595.5 756.5,595.0 757.0,594.6 757.6,594.2 758.1,593.8 758.6,593.5 759.1,593.3 759.6,593.1 760.1,593.0 760.6,593.0 761.1,593.0 761.6,593.2 762.1,593.4 762.7,593.7 763.2,594.0 763.7,594.5 764.2,594.9 764.7,595.5 765.2,596.1 765.7,596.7 766.2,597.3 766.8,597.9 767.3,598.5 767.8,599.1 768.3,599.7 768.8,600.3 769.3,600.7 769.8,601.2 770.3,601.5 770.9,601.8 771.4,602.0 771.9,602.2 772.4,602.2 772.9,602.2 773.4,602.1 773.9,601.9 774.4,601.7 774.9,601.4 775.4,601.1 775.9,600.8 776.4,600.3 776.9,599.9 777.4,599.4 777.9,598.9 778.4,598.3 778.9,597.8 779.4,597.2 780.0,596.6 780.5,596.0 781.0,595.4 781.5,594.9 782.0,594.3 782.5,593.8 783.0,593.3 783.5,592.9 784.0,592.4 784.5,592.1 785.0,591.8 785.5,591.5 786.0,591.3 786.5,591.1 787.0,591.0 787.5,591.0 788.0,591.1 788.5,591.3 789.0,591.6 789.5,592.0 790.0,592.6 790.6,593.2 791.1,593.9 791.6,594.7 792.1,595.6 792.6,596.4 793.1,597.4 793.6,598.3 794.1,599.1 794.6,600.0 795.1,600.8 795.6,601.5 796.2,602.1 796.7,602.7 797.2,603.1 797.7,603.4 798.2,603.6 798.7,603.7 799.2,603.7 799.7,603.6 800.2,603.4 800.7,603.2 801.2,602.9 801.7,602.5 802.2,602.1 802.7,601.7 803.2,601.2 803.7,600.7 804.2,600.1 804.7,599.5 805.2,598.9 805.8,598.4 806.3,597.8 806.8,597.2 807.3,596.6 807.8,596.1 808.3,595.6 808.8,595.2 809.3,594.8 809.8,594.4 810.3,594.1 810.8,593.9 811.3,593.7 811.8,593.6 812.3,593.6 812.8,593.6 813.3,593.7 813.8,593.9 814.3,594.0 814.8,594.2 815.3,594.5 815.8,594.7 816.3,595.0 816.8,595.2 817.3,595.3 817.8,595.5 818.3,595.6 818.8,595.6 819.3,595.6 819.8,595.5 820.3,595.4 820.8,595.3 821.4,595.1 821.9,595.0 822.4,594.9 822.9,594.8 823.4,594.8 823.9,594.9 824.4,595.0 824.9,595.3 825.4,595.6 825.9,596.0 826.5,596.4 827.0,596.8 827.5,597.1 828.0,597.4 828.5,597.5 829.0,597.6 829.5,597.6 830.0,597.7 830.6,597.8 831.1,597.9 831.6,598.1 832.1,598.3 832.6,598.5 833.2,598.7 833.7,598.9 834.2,599.1 834.7,599.3 835.2,599.4 835.8,599.5 836.3,599.6 836.8,599.6" fill="none" stroke="#f0a21c" stroke-width="2.4" stroke-linejoin="round" stroke-linecap="round" clip-path="url(#clipe)"/>
<polyline points="548.8,667.8 549.3,667.7 549.8,667.6 550.3,667.3 550.8,666.9 551.3,666.4 551.8,665.8 552.3,665.1 552.8,664.4 553.3,663.6 553.8,662.8 554.3,662.0 554.8,661.1 555.3,660.3 555.8,659.5 556.3,658.8 556.8,658.1 557.3,657.5 557.8,657.0 558.3,656.6 558.8,656.3 559.3,656.2 559.8,656.1 560.3,656.1 560.8,656.2 561.3,656.4 561.8,656.6 562.3,656.8 562.8,657.1 563.3,657.5 563.8,657.9 564.4,658.4 564.9,658.9 565.4,659.4 565.9,660.0 566.4,660.6 566.9,661.2 567.4,661.9 567.9,662.5 568.4,663.2 568.9,663.8 569.4,664.5 569.9,665.1 570.4,665.8 570.9,666.4 571.4,667.0 571.9,667.6 572.4,668.1 572.9,668.6 573.5,669.1 574.0,669.5 574.5,669.9 575.0,670.2 575.5,670.4 576.0,670.6 576.5,670.8 577.0,670.9 577.5,670.9 578.0,670.9 578.5,670.7 579.0,670.5 579.5,670.2 580.0,669.8 580.5,669.3 581.0,668.7 581.6,668.1 582.1,667.4 582.6,666.7 583.1,665.9 583.6,665.1 584.1,664.3 584.6,663.5 585.1,662.7 585.6,661.9 586.1,661.1 586.6,660.3 587.1,659.6 587.6,658.9 588.2,658.3 588.7,657.7 589.2,657.2 589.7,656.8 590.2,656.5 590.7,656.3 591.2,656.1 591.7,656.1 592.2,656.1 592.7,656.2 593.2,656.3 593.7,656.5 594.2,656.8 594.7,657.1 595.2,657.4 595.7,657.8 596.2,658.2 596.7,658.6 597.2,659.1 597.7,659.6 598.2,660.2 598.7,660.7 599.2,661.3 599.7,661.9 600.2,662.4 600.8,663.0 601.3,663.6 601.8,664.2 602.3,664.7 602.8,665.3 603.3,665.8 603.8,666.3 604.3,666.7 604.8,667.1 605.3,667.5 605.8,667.8 606.3,668.1 606.8,668.4 607.3,668.6 607.8,668.7 608.3,668.8 608.8,668.8 609.3,668.8 609.8,668.7 610.3,668.6 610.8,668.4 611.3,668.2 611.8,667.9 612.3,667.6 612.8,667.3 613.4,666.9 613.9,666.5 614.4,666.0 614.9,665.5 615.4,665.0 615.9,664.5 616.4,664.0 616.9,663.4 617.4,662.9 617.9,662.4 618.4,661.8 618.9,661.3 619.4,660.8 619.9,660.3 620.4,659.8 620.9,659.3 621.4,658.9 622.0,658.5 622.5,658.2 623.0,657.9 623.5,657.6 624.0,657.4 624.5,657.2 625.0,657.1 625.5,657.0 626.0,657.0 626.5,657.0 627.0,657.2 627.5,657.3 628.0,657.6 628.5,658.0 629.0,658.4 629.5,658.8 630.1,659.3 630.6,659.9 631.1,660.5 631.6,661.2 632.1,661.9 632.6,662.6 633.1,663.3 633.6,664.0 634.1,664.7 634.6,665.4 635.1,666.1 635.6,666.8 636.1,667.4 636.6,668.0 637.2,668.5 637.7,668.9 638.2,669.3 638.7,669.7 639.2,670.0 639.7,670.1 640.2,670.3 640.7,670.3 641.2,670.3 641.7,670.1 642.2,669.9 642.7,669.5 643.2,669.1 643.7,668.6 644.2,668.1 644.7,667.4 645.2,666.8 645.7,666.0 646.2,665.2 646.7,664.4 647.2,663.6 647.8,662.8 648.3,662.0 648.8,661.2 649.3,660.4 649.8,659.6 650.3,659.0 650.8,658.3 651.3,657.8 651.8,657.3 652.3,656.9 652.8,656.5 653.3,656.3 653.8,656.1 654.3,656.1 654.8,656.1 655.3,656.3 655.8,656.5 656.3,656.8 656.8,657.2 657.3,657.6 657.8,658.1 658.3,658.7 658.8,659.4 659.3,660.0 659.8,660.7 660.3,661.5 660.8,662.2 661.4,663.0 661.9,663.7 662.4,664.5 662.9,665.2 663.4,665.9 663.9,666.5 664.4,667.1 664.9,667.6 665.4,668.0 665.9,668.4 666.4,668.7 666.9,668.9 667.4,669.1 667.9,669.1 668.4,669.0 668.9,668.9 669.5,668.6 670.0,668.3 670.5,667.8 671.0,667.3 671.5,666.7 672.0,666.1 672.6,665.4 673.1,664.6 673.6,663.9 674.1,663.1 674.6,662.4 675.1,661.6 675.7,660.9 676.2,660.3 676.7,659.7 677.2,659.2 677.7,658.7 678.2,658.4 678.8,658.1 679.3,658.0 679.8,657.9 680.3,657.9 680.8,658.0 681.3,658.2 681.8,658.5 682.3,658.8 682.8,659.2 683.3,659.6 683.8,660.1 684.3,660.7 684.8,661.2 685.3,661.8 685.8,662.4 686.3,663.0 686.8,663.7 687.3,664.3 687.8,664.9 688.3,665.4 688.8,666.0 689.3,666.5 689.8,666.9 690.3,667.3 690.8,667.6 691.3,667.9 691.8,668.1 692.3,668.2 692.8,668.2 693.3,668.2 693.8,668.0 694.3,667.8 694.8,667.5 695.3,667.1 695.8,666.6 696.3,666.1 696.8,665.5 697.3,664.8 697.8,664.2 698.3,663.4 698.8,662.7 699.4,662.0 699.9,661.3 700.4,660.5 700.9,659.9 701.4,659.2 701.9,658.6 702.4,658.1 702.9,657.6 703.4,657.2 703.9,656.9 704.4,656.7 704.9,656.5 705.4,656.5 705.9,656.5 706.4,656.7 706.9,656.9 707.4,657.2 707.9,657.6 708.4,658.0 708.9,658.5 709.4,659.1 709.9,659.8 710.4,660.4 710.9,661.1 711.4,661.9 711.9,662.6 712.5,663.4 713.0,664.1 713.5,664.9 714.0,665.6 714.5,666.2 715.0,666.9 715.5,667.5 716.0,668.0 716.5,668.4 717.0,668.8 717.5,669.1 718.0,669.3 718.5,669.5 719.0,669.5 719.5,669.4 720.0,669.3 720.5,669.0 721.0,668.7 721.5,668.2 722.0,667.7 722.5,667.1 723.0,666.4 723.5,665.7 724.0,664.9 724.5,664.1 725.0,663.3 725.5,662.4 726.0,661.5 726.5,660.7 727.0,659.9 727.5,659.1 728.0,658.4 728.5,657.7 729.0,657.1 729.5,656.6 730.0,656.1 730.5,655.8 731.0,655.5 731.5,655.4 732.0,655.3 732.5,655.4 733.0,655.5 733.5,655.8 734.0,656.1 734.5,656.6 735.0,657.1 735.5,657.8 736.0,658.5 736.5,659.2 737.0,660.0 737.5,660.9 738.0,661.8 738.5,662.6 739.0,663.5 739.5,664.4 740.0,665.3 740.5,666.1 741.0,666.8 741.5,667.5 742.0,668.2 742.5,668.7 743.0,669.2 743.5,669.5 744.0,669.8 744.5,669.9 745.0,670.0 745.5,669.9 746.0,669.8 746.5,669.5 747.0,669.2 747.5,668.8 748.0,668.2 748.5,667.6 749.0,667.0 749.5,666.2 750.0,665.5 750.5,664.7 751.0,663.8 751.5,662.9 752.1,662.1 752.6,661.2 753.1,660.3 753.6,659.5 754.1,658.8 754.6,658.0 755.1,657.4 755.6,656.8 756.1,656.2 756.6,655.8 757.1,655.5 757.6,655.2 758.1,655.1 758.6,655.0 759.1,655.0 759.6,655.2 760.1,655.4 760.6,655.8 761.1,656.2 761.6,656.7 762.1,657.3 762.6,658.0 763.1,658.7 763.6,659.4 764.1,660.3 764.6,661.1 765.1,662.0 765.7,662.9 766.2,663.7 766.7,664.6 767.2,665.4 767.7,666.3 768.2,667.0 768.7,667.7 769.2,668.4 769.7,669.0 770.2,669.5 770.7,669.9 771.2,670.3 771.7,670.5 772.2,670.7 772.7,670.7 773.2,670.7 773.7,670.5 774.2,670.3 774.8,670.0 775.3,669.6 775.8,669.2 776.3,668.7 776.8,668.1 777.3,667.5 777.8,666.8 778.3,666.0 778.9,665.3 779.4,664.5 779.9,663.7 780.4,662.9 780.9,662.0 781.4,661.2 781.9,660.4 782.5,659.7 783.0,658.9 783.5,658.2 784.0,657.6 784.5,657.0 785.0,656.5 785.5,656.1 786.0,655.7 786.6,655.4 787.1,655.2 787.6,655.0 788.1,655.0 788.6,655.1 789.1,655.3 789.6,655.7 790.2,656.2 790.7,656.8 791.2,657.5 791.7,658.4 792.2,659.3 792.7,660.3 793.2,661.3 793.7,662.4 794.3,663.5 794.8,664.6 795.3,665.6 795.8,666.6 796.3,667.5 796.8,668.4 797.3,669.1 797.8,669.7 798.4,670.2 798.9,670.6 799.4,670.8 799.9,670.9 800.3,670.5 800.7,669.9 801.3,669.2 801.9,668.5 802.5,667.8 803.0,667.1 803.5,666.5 804.1,665.8 804.6,665.2 805.2,664.6 805.8,664.1 806.5,663.7 807.2,663.3 807.8,663.0 808.5,662.6 809.1,662.3 809.8,661.9 810.4,661.6 811.1,661.3 811.7,661.0 812.4,660.6 813.0,660.3 813.7,659.9 814.3,659.5 815.0,659.2 815.7,658.9 816.3,658.5 817.0,658.2 817.6,658.0 818.3,657.9 818.9,657.9 819.6,658.0 820.2,658.3 820.9,658.6 821.5,659.0 822.2,659.6 822.8,660.2 823.5,661.0 824.2,661.8 824.8,662.6 825.4,663.4 825.9,664.2 826.5,665.1 827.0,665.9 827.5,666.6 828.0,667.3 828.5,667.9 829.0,668.5 829.6,668.9 830.1,669.1 830.6,669.1 831.2,668.9 831.8,668.5 832.4,668.1 833.0,667.6 833.8,667.0 834.6,666.2 835.5,665.4 836.3,664.7 836.8,664.2" fill="none" stroke="#7be01e" stroke-width="2.4" stroke-linejoin="round" stroke-linecap="round" clip-path="url(#clipe)"/>
<polyline points="548.8,735.6 549.3,735.7 549.9,736.0 550.5,736.4 551.0,736.9 551.5,737.2 552.1,737.3 552.6,737.3 553.1,737.2 553.6,737.0 554.1,736.8 554.6,736.5 555.1,736.1 555.6,735.7 556.1,735.2 556.6,734.7 557.1,734.1 557.6,733.5 558.1,732.8 558.6,732.2 559.1,731.5 559.6,730.7 560.1,730.0 560.7,729.2 561.2,728.5 561.7,727.8 562.2,727.0 562.7,726.3 563.2,725.7 563.7,725.0 564.2,724.4 564.7,723.8 565.2,723.3 565.7,722.8 566.2,722.4 566.7,722.0 567.2,721.7 567.7,721.5 568.2,721.3 568.7,721.2 569.2,721.2 569.7,721.2 570.2,721.3 570.7,721.5 571.2,721.6 571.8,721.9 572.3,722.2 572.8,722.5 573.3,722.9 573.8,723.4 574.3,723.8 574.8,724.4 575.3,724.9 575.8,725.5 576.4,726.1 576.9,726.7 577.4,727.4 577.9,728.0 578.4,728.7 578.9,729.3 579.4,730.0 579.9,730.6 580.4,731.3 580.9,731.9 581.5,732.5 582.0,733.1 582.5,733.6 583.0,734.2 583.5,734.6 584.0,735.1 584.5,735.5 585.0,735.8 585.5,736.1 586.1,736.4 586.6,736.5 587.1,736.7 587.6,736.8 588.1,736.8 588.6,736.7 589.1,736.5 589.7,736.2 590.2,735.7 590.7,735.1 591.2,734.4 591.7,733.6 592.2,732.7 592.8,731.8 593.3,730.8 593.8,729.8 594.3,728.7 594.8,727.7 595.3,726.7 595.9,725.8 596.4,724.9 596.9,724.1 597.4,723.4 597.9,722.8 598.4,722.3 599.0,722.0 599.5,721.8 600.0,721.7 600.5,721.7 601.0,721.9 601.5,722.1 602.0,722.5 602.5,722.9 603.0,723.4 603.5,723.9 604.0,724.6 604.5,725.3 605.0,726.0 605.5,726.8 606.0,727.5 606.5,728.4 607.0,729.2 607.5,729.9 608.0,730.7 608.5,731.4 609.0,732.1 609.5,732.8 610.0,733.3 610.5,733.8 611.0,734.2 611.5,734.6 612.0,734.8 612.5,735.0 613.0,735.0 613.5,735.0 614.0,734.9 614.5,734.7 615.0,734.4 615.5,734.1 616.0,733.7 616.5,733.3 617.1,732.8 617.6,732.2 618.1,731.7 618.6,731.0 619.1,730.4 619.6,729.8 620.1,729.1 620.6,728.4 621.1,727.8 621.6,727.2 622.1,726.5 622.6,726.0 623.1,725.4 623.7,724.9 624.2,724.5 624.7,724.1 625.2,723.8 625.7,723.5 626.2,723.3 626.7,723.2 627.2,723.2 627.7,723.3 628.2,723.5 628.7,723.8 629.3,724.2 629.8,724.8 630.3,725.4 630.8,726.2 631.3,727.0 631.8,727.9 632.3,728.8 632.8,729.8 633.4,730.7 633.9,731.7 634.4,732.6 634.9,733.5 635.4,734.3 635.9,735.1 636.4,735.7 636.9,736.3 637.5,736.7 638.0,737.0 638.5,737.2 639.0,737.3 639.5,737.2 640.0,737.0 640.5,736.7 641.0,736.2 641.5,735.6 642.0,734.8 642.5,734.0 643.0,733.0 643.5,732.0 644.0,730.9 644.5,729.8 645.0,728.6 645.5,727.5 646.0,726.3 646.5,725.1 647.0,724.0 647.5,722.9 648.0,721.9 648.5,720.9 649.0,720.1 649.5,719.3 650.0,718.7 650.5,718.2 651.0,717.9 651.5,717.7 652.0,717.6 652.5,717.7 653.0,717.9 653.5,718.4 654.0,718.9 654.5,719.7 655.0,720.5 655.5,721.5 656.0,722.6 656.5,723.8 657.0,725.1 657.5,726.5 658.0,727.8 658.5,729.2 659.0,730.7 659.5,732.0 660.0,733.4 660.5,734.7 661.0,735.9 661.5,737.0 662.0,738.0 662.5,738.8 663.0,739.6 663.5,740.1 664.0,740.6 664.5,740.8 665.0,740.9 665.5,740.8 666.0,740.6 666.5,740.2 667.0,739.6 667.5,739.0 668.0,738.1 668.5,737.2 669.0,736.1 669.5,735.0 670.0,733.8 670.5,732.5 671.0,731.1 671.5,729.8 672.1,728.4 672.6,727.1 673.1,725.7 673.6,724.4 674.1,723.2 674.6,722.1 675.1,721.0 675.6,720.1 676.1,719.2 676.6,718.6 677.1,718.0 677.6,717.6 678.1,717.4 678.6,717.3 679.1,717.4 679.6,717.6 680.1,718.0 680.7,718.5 681.2,719.1 681.7,719.9 682.2,720.8 682.7,721.8 683.2,722.8 683.7,724.0 684.3,725.2 684.8,726.5 685.3,727.8 685.8,729.1 686.3,730.5 686.8,731.8 687.3,733.1 687.9,734.3 688.4,735.5 688.9,736.5 689.4,737.5 689.9,738.4 690.4,739.2 690.9,739.8 691.5,740.3 692.0,740.7 692.5,740.9 693.0,741.0 693.5,740.9 694.0,740.7 694.5,740.3 695.0,739.8 695.5,739.1 696.0,738.3 696.5,737.4 697.0,736.4 697.5,735.2 698.0,734.0 698.5,732.8 699.0,731.4 699.5,730.1 700.0,728.7 700.6,727.3 701.1,726.0 701.6,724.6 702.1,723.4 702.6,722.2 703.1,721.0 703.6,720.0 704.1,719.1 704.6,718.3 705.1,717.6 705.6,717.1 706.1,716.7 706.6,716.5 707.1,716.4 707.6,716.5 708.1,716.7 708.6,717.1 709.1,717.6 709.6,718.3 710.1,719.1 710.6,720.0 711.1,721.0 711.6,722.2 712.1,723.3 712.6,724.6 713.1,725.9 713.6,727.1 714.1,728.4 714.6,729.7 715.1,731.0 715.6,732.1 716.1,733.3 716.6,734.3 717.1,735.2 717.6,736.0 718.1,736.7 718.6,737.2 719.1,737.6 719.6,737.8 720.1,737.9 720.6,737.8 721.1,737.6 721.6,737.3 722.1,736.8 722.6,736.1 723.1,735.4 723.7,734.6 724.2,733.6 724.7,732.7 725.2,731.6 725.7,730.5 726.2,729.4 726.7,728.3 727.2,727.2 727.7,726.1 728.2,725.1 728.7,724.2 729.2,723.4 729.8,722.7 730.3,722.0 730.8,721.5 731.3,721.2 731.8,721.0 732.3,720.9 732.8,721.0 733.3,721.2 733.8,721.5 734.3,722.0 734.9,722.6 735.4,723.3 735.9,724.1 736.4,724.9 736.9,725.9 737.4,726.9 737.9,727.9 738.5,729.0 739.0,730.1 739.5,731.1 740.0,732.1 740.5,733.0 741.0,733.9 741.5,734.7 742.0,735.4 742.5,736.0 743.1,736.5 743.6,736.8 744.1,737.0 744.6,737.1 745.1,737.0 745.6,736.9 746.1,736.6 746.6,736.1 747.1,735.6 747.6,735.0 748.1,734.3 748.6,733.5 749.1,732.6 749.6,731.6 750.1,730.7 750.6,729.7 751.1,728.7 751.6,727.6 752.1,726.6 752.6,725.7 753.1,724.7 753.6,723.8 754.1,723.0 754.6,722.3 755.1,721.7 755.6,721.2 756.1,720.7 756.6,720.4 757.1,720.3 757.6,720.2 758.1,720.3 758.6,720.5 759.1,720.8 759.7,721.3 760.2,721.9 760.7,722.6 761.2,723.3 761.7,724.2 762.2,725.2 762.8,726.2 763.3,727.3 763.8,728.4 764.3,729.5 764.8,730.7 765.3,731.8 765.8,732.9 766.4,733.9 766.9,734.9 767.4,735.8 767.9,736.5 768.4,737.2 768.9,737.8 769.5,738.3 770.0,738.6 770.5,738.8 771.0,738.9 771.5,738.8 772.0,738.5 772.5,738.1 773.1,737.5 773.6,736.8 774.1,735.9 774.6,734.9 775.1,733.7 775.6,732.5 776.2,731.2 776.7,729.9 777.2,728.6 777.7,727.2 778.2,725.9 778.8,724.6 779.3,723.4 779.8,722.2 780.3,721.2 780.8,720.3 781.3,719.6 781.9,719.0 782.4,718.6 782.9,718.3 783.4,718.2 783.9,718.3 784.4,718.5 784.9,718.8 785.4,719.2 785.9,719.7 786.4,720.4 787.0,721.1 787.5,722.0 788.0,722.9 788.5,723.9 789.0,724.9 789.5,726.0 790.0,727.1 790.5,728.2 791.0,729.4 791.5,730.5 792.0,731.6 792.5,732.6 793.0,733.6 793.5,734.5 794.0,735.4 794.6,736.1 795.1,736.8 795.6,737.3 796.1,737.7 796.6,738.0 797.1,738.2 797.6,738.3 798.0,738.2 798.5,738.0 799.2,737.8 799.8,737.4 800.5,737.0 801.2,736.4 801.9,735.7 802.7,734.9 803.4,734.1 804.1,733.3 804.7,732.6 805.3,732.0 805.9,731.4 806.4,730.6 807.0,729.8 807.6,728.8 808.2,727.6 808.8,726.4 809.4,725.1 810.0,724.0 810.6,722.9 811.1,721.8 811.7,720.7 812.3,719.8 812.8,719.0 813.3,718.3 813.8,717.8 814.3,717.4 814.8,717.1 815.3,717.0 815.8,717.1 816.3,717.3 816.8,717.7 817.4,718.3 818.0,719.2 818.7,720.4 819.5,721.9 820.3,723.5 821.1,725.3 821.8,727.0 822.5,728.8 823.1,730.7 823.7,732.7 824.3,734.5 824.8,736.0 825.3,737.2 825.8,738.3 826.2,739.2 826.6,739.8 827.1,740.1 827.6,740.1 828.1,739.7 828.5,739.1 829.0,738.4 829.5,737.8 830.0,737.2 830.4,736.6 830.9,735.9 831.3,735.3 831.8,734.8 832.2,734.4 832.7,734.0 833.1,733.7 833.5,733.5 834.0,733.2 834.6,732.9 835.2,732.7 835.9,732.5 836.4,732.3 836.8,732.2" fill="none" stroke="#1de37a" stroke-width="2.4" stroke-linejoin="round" stroke-linecap="round" clip-path="url(#clipe)"/>
<polyline points="548.6,802.4 549.1,802.3 549.7,802.1 550.2,801.8 550.8,801.3 551.3,800.9 551.9,800.4 552.4,800.1 553.0,799.9 553.5,799.8 554.0,799.7 554.5,799.5 555.0,799.2 555.5,798.7 556.0,798.2 556.5,797.5 557.0,796.7 557.5,795.9 558.0,795.0 558.5,794.0 559.0,793.0 559.6,792.1 560.1,791.1 560.6,790.1 561.1,789.2 561.6,788.4 562.1,787.6 562.6,786.9 563.1,786.4 563.6,785.9 564.1,785.6 564.6,785.4 565.1,785.3 565.6,785.4 566.1,785.5 566.6,785.8 567.2,786.2 567.7,786.7 568.2,787.3 568.7,788.0 569.2,788.7 569.7,789.6 570.2,790.5 570.7,791.4 571.3,792.5 571.8,793.5 572.3,794.6 572.8,795.6 573.3,796.7 573.8,797.8 574.3,798.8 574.9,799.9 575.4,800.8 575.9,801.7 576.4,802.6 576.9,803.3 577.4,804.0 577.9,804.6 578.4,805.1 579.0,805.5 579.5,805.8 580.0,805.9 580.5,806.0 581.0,805.9 581.5,805.7 582.0,805.4 582.5,805.0 583.0,804.5 583.6,803.8 584.1,803.1 584.6,802.2 585.1,801.3 585.6,800.3 586.1,799.2 586.6,798.1 587.1,796.9 587.6,795.7 588.1,794.6 588.7,793.4 589.2,792.2 589.7,791.0 590.2,789.9 590.7,788.8 591.2,787.8 591.7,786.9 592.2,786.0 592.7,785.3 593.2,784.6 593.8,784.1 594.3,783.7 594.8,783.4 595.3,783.2 595.8,783.1 596.3,783.2 596.8,783.4 597.3,783.7 597.8,784.2 598.3,784.7 598.9,785.4 599.4,786.2 599.9,787.2 600.4,788.2 600.9,789.3 601.4,790.5 601.9,791.7 602.4,793.0 602.9,794.3 603.4,795.7 603.9,797.1 604.5,798.5 605.0,799.9 605.5,801.3 606.0,802.6 606.5,803.9 607.0,805.1 607.5,806.3 608.0,807.4 608.5,808.4 609.0,809.4 609.5,810.2 610.1,810.9 610.6,811.4 611.1,811.9 611.6,812.2 612.1,812.4 612.6,812.5 613.1,812.4 613.6,812.1 614.1,811.5 614.6,810.8 615.1,809.8 615.6,808.6 616.1,807.3 616.6,805.8 617.1,804.2 617.6,802.5 618.1,800.6 618.6,798.7 619.1,796.7 619.6,794.6 620.2,792.6 620.7,790.5 621.2,788.5 621.7,786.6 622.2,784.7 622.7,783.0 623.2,781.4 623.7,779.9 624.2,778.6 624.7,777.4 625.2,776.4 625.7,775.7 626.2,775.1 626.7,774.8 627.2,774.7 627.7,774.8 628.2,775.1 628.7,775.7 629.2,776.4 629.7,777.4 630.2,778.5 630.7,779.9 631.3,781.3 631.8,782.9 632.3,784.7 632.8,786.5 633.3,788.5 633.8,790.5 634.3,792.5 634.8,794.5 635.3,796.5 635.8,798.5 636.3,800.5 636.8,802.3 637.3,804.1 637.8,805.7 638.4,807.1 638.9,808.5 639.4,809.6 639.9,810.6 640.4,811.3 640.9,811.9 641.4,812.2 641.9,812.3 642.4,812.2 642.9,811.9 643.4,811.4 643.9,810.7 644.4,809.8 644.9,808.8 645.5,807.6 646.0,806.2 646.5,804.7 647.0,803.2 647.5,801.5 648.0,799.7 648.5,798.0 649.0,796.1 649.5,794.3 650.0,792.6 650.5,790.8 651.0,789.1 651.5,787.6 652.0,786.1 652.5,784.7 653.1,783.5 653.6,782.5 654.1,781.6 654.6,780.9 655.1,780.4 655.6,780.1 656.1,780.0 656.6,780.1 657.1,780.6 657.6,781.3 658.1,782.3 658.6,783.6 659.2,785.1 659.7,786.7 660.2,788.6 660.7,790.5 661.2,792.6 661.7,794.6 662.2,796.7 662.7,798.8 663.2,800.7 663.7,802.6 664.2,804.2 664.8,805.7 665.3,807.0 665.8,808.0 666.3,808.7 666.8,809.2 667.3,809.3 667.8,809.2 668.3,808.9 668.8,808.3 669.4,807.5 669.9,806.6 670.4,805.4 670.9,804.1 671.4,802.7 671.9,801.1 672.5,799.4 673.0,797.6 673.5,795.8 674.0,794.0 674.5,792.1 675.0,790.3 675.5,788.5 676.1,786.8 676.6,785.2 677.1,783.8 677.6,782.5 678.1,781.3 678.6,780.4 679.2,779.6 679.7,779.0 680.2,778.7 680.7,778.6 681.2,778.7 681.7,779.2 682.3,779.9 682.8,780.9 683.3,782.2 683.8,783.7 684.3,785.4 684.8,787.2 685.4,789.2 685.9,791.3 686.4,793.5 686.9,795.7 687.4,797.9 687.9,800.0 688.5,802.0 689.0,803.8 689.5,805.5 690.0,807.0 690.5,808.3 691.0,809.3 691.6,810.0 692.1,810.5 692.6,810.6 693.1,810.5 693.6,810.1 694.1,809.4 694.6,808.5 695.1,807.4 695.6,806.0 696.2,804.5 696.7,802.8 697.2,801.0 697.7,799.0 698.2,797.0 698.7,795.0 699.2,793.0 699.7,791.0 700.2,789.0 700.7,787.2 701.2,785.5 701.8,784.0 702.3,782.6 702.8,781.5 703.3,780.6 703.8,779.9 704.3,779.5 704.8,779.4 705.3,779.5 705.8,779.8 706.3,780.4 706.8,781.1 707.3,782.1 707.8,783.2 708.3,784.6 708.8,786.0 709.3,787.6 709.8,789.3 710.3,791.1 710.8,793.0 711.3,794.9 711.9,796.8 712.4,798.7 712.9,800.6 713.4,802.4 713.9,804.1 714.4,805.7 714.9,807.1 715.4,808.5 715.9,809.6 716.4,810.6 716.9,811.3 717.4,811.9 717.9,812.2 718.4,812.3 718.9,812.2 719.4,811.8 719.9,811.2 720.4,810.4 720.9,809.4 721.4,808.1 721.9,806.7 722.4,805.1 722.9,803.4 723.4,801.5 723.9,799.6 724.4,797.5 724.9,795.5 725.5,793.4 726.0,791.4 726.5,789.3 727.0,787.4 727.5,785.5 728.0,783.8 728.5,782.2 729.0,780.8 729.5,779.5 730.0,778.5 730.5,777.7 731.0,777.1 731.5,776.7 732.0,776.6 732.5,776.7 733.0,777.0 733.5,777.6 734.0,778.3 734.5,779.2 735.0,780.3 735.5,781.6 736.1,783.1 736.6,784.6 737.1,786.3 737.6,788.1 738.1,790.0 738.6,791.9 739.1,793.9 739.6,795.9 740.1,797.9 740.6,799.8 741.1,801.7 741.6,803.5 742.1,805.2 742.6,806.7 743.2,808.2 743.7,809.5 744.2,810.6 744.7,811.5 745.2,812.2 745.7,812.8 746.2,813.1 746.7,813.2 747.2,813.0 747.7,812.6 748.3,811.8 748.8,810.8 749.3,809.5 749.8,807.9 750.3,806.1 750.8,804.2 751.4,802.1 751.9,799.9 752.4,797.6 752.9,795.4 753.4,793.1 753.9,790.9 754.5,788.8 755.0,786.9 755.5,785.1 756.0,783.5 756.5,782.2 757.0,781.2 757.6,780.4 758.1,780.0 758.6,779.8 759.1,779.9 759.6,780.2 760.1,780.6 760.6,781.3 761.1,782.1 761.6,783.0 762.1,784.1 762.6,785.3 763.1,786.7 763.6,788.1 764.1,789.5 764.6,791.1 765.1,792.6 765.6,794.1 766.1,795.7 766.6,797.1 767.1,798.5 767.6,799.9 768.1,801.1 768.6,802.2 769.1,803.1 769.6,803.9 770.1,804.6 770.6,805.0 771.1,805.3 771.6,805.4 772.1,805.3 772.6,805.2 773.1,804.9 773.6,804.6 774.1,804.1 774.6,803.6 775.1,803.0 775.6,802.3 776.1,801.5 776.6,800.7 777.1,799.8 777.6,799.0 778.1,798.1 778.7,797.1 779.2,796.2 779.7,795.4 780.2,794.5 780.7,793.7 781.2,792.9 781.7,792.2 782.2,791.6 782.7,791.1 783.2,790.6 783.7,790.3 784.2,790.0 784.7,789.9 785.2,789.8 785.7,789.9 786.2,790.2 786.8,790.6 787.3,791.2 787.8,792.0 788.3,792.8 788.8,793.8 789.3,794.7 789.9,795.8 790.4,796.7 790.9,797.7 791.4,798.5 791.9,799.3 792.4,799.9 793.0,800.3 793.5,800.6 794.0,800.7 794.3,800.6 794.8,800.4 795.4,800.2 796.0,799.9 796.5,799.6 797.0,799.2 797.5,798.7 798.0,798.2 798.5,797.7 799.0,797.2 799.5,796.7 800.0,796.2 800.5,795.8 801.0,795.2 801.5,794.6 802.0,793.9 802.5,793.2 803.0,792.4 803.5,791.5 804.0,790.5 804.5,789.4 805.1,788.1 805.7,786.8 806.2,785.5 806.8,784.4 807.3,783.4 807.9,782.4 808.4,781.5 808.9,780.9 809.4,780.6 809.9,780.6 810.4,780.8 810.9,781.3 811.4,782.1 812.0,783.2 812.7,784.7 813.5,786.5 814.3,788.6 815.2,790.8 816.0,793.0 816.8,795.3 817.6,797.8 818.4,800.4 819.2,802.8 820.0,805.0 820.8,807.1 821.7,809.1 822.5,811.0 823.4,812.3 824.2,812.9 825.0,812.6 825.7,811.7 826.5,810.2 827.2,808.4 828.0,806.5 828.8,804.4 829.5,801.9 830.3,799.2 831.1,796.5 832.0,794.0 833.0,791.4 834.1,788.7 835.2,786.1 836.1,783.9 836.8,782.3" fill="none" stroke="#1eaeea" stroke-width="2.4" stroke-linejoin="round" stroke-linecap="round" clip-path="url(#clipe)"/>
<polyline points="548.8,866.6 549.3,866.7 549.8,867.1 550.3,867.6 550.8,868.3 551.3,869.0 551.9,869.7 552.4,870.4 552.9,870.9 553.4,871.3 553.9,871.4 554.4,871.3 554.9,871.1 555.4,870.8 555.9,870.3 556.4,869.7 556.9,869.0 557.4,868.2 557.9,867.2 558.4,866.2 558.9,865.1 559.4,863.9 559.9,862.7 560.4,861.4 560.9,860.1 561.5,858.8 562.0,857.5 562.5,856.2 563.0,854.9 563.5,853.7 564.0,852.5 564.5,851.4 565.0,850.4 565.5,849.4 566.0,848.6 566.5,847.9 567.0,847.3 567.5,846.8 568.0,846.5 568.5,846.3 569.0,846.2 569.5,846.3 570.0,846.6 570.5,847.0 571.1,847.6 571.6,848.4 572.1,849.3 572.6,850.3 573.1,851.5 573.6,852.8 574.1,854.2 574.7,855.6 575.2,857.1 575.7,858.7 576.2,860.2 576.7,861.8 577.2,863.4 577.7,864.9 578.3,866.3 578.8,867.7 579.3,869.0 579.8,870.2 580.3,871.2 580.8,872.1 581.3,872.9 581.9,873.5 582.4,873.9 582.9,874.2 583.4,874.3 583.9,874.2 584.4,874.0 584.9,873.7 585.5,873.2 586.0,872.5 586.5,871.8 587.0,870.9 587.5,869.9 588.0,868.9 588.5,867.7 589.0,866.5 589.6,865.2 590.1,863.9 590.6,862.5 591.1,861.1 591.6,859.8 592.1,858.4 592.6,857.1 593.2,855.8 593.7,854.6 594.2,853.4 594.7,852.4 595.2,851.4 595.7,850.5 596.2,849.8 596.7,849.1 597.3,848.6 597.8,848.3 598.3,848.1 598.8,848.0 599.3,848.1 599.8,848.5 600.3,849.2 600.8,850.1 601.3,851.3 601.8,852.6 602.3,854.1 602.8,855.8 603.3,857.6 603.8,859.5 604.3,861.4 604.8,863.2 605.3,865.1 605.8,866.9 606.3,868.6 606.8,870.1 607.3,871.4 607.8,872.6 608.3,873.5 608.8,874.2 609.3,874.6 609.8,874.7 610.3,874.6 610.8,874.3 611.3,873.8 611.8,873.1 612.3,872.2 612.8,871.1 613.3,869.9 613.8,868.6 614.3,867.1 614.8,865.6 615.3,864.0 615.8,862.3 616.4,860.7 616.9,859.0 617.4,857.4 617.9,855.9 618.4,854.4 618.9,853.1 619.4,851.9 619.9,850.8 620.4,849.9 620.9,849.2 621.4,848.7 621.9,848.4 622.4,848.3 622.9,848.4 623.4,848.6 623.9,849.0 624.4,849.5 624.9,850.1 625.4,850.9 626.0,851.8 626.5,852.8 627.0,853.8 627.5,855.0 628.0,856.2 628.5,857.5 629.0,858.8 629.5,860.1 630.0,861.5 630.5,862.8 631.0,864.1 631.5,865.3 632.0,866.5 632.5,867.5 633.0,868.5 633.6,869.4 634.1,870.2 634.6,870.8 635.1,871.3 635.6,871.7 636.1,871.9 636.6,872.0 637.1,871.9 637.6,871.6 638.1,871.1 638.7,870.5 639.2,869.6 639.7,868.6 640.2,867.5 640.7,866.2 641.2,864.8 641.8,863.3 642.3,861.7 642.8,860.1 643.3,858.5 643.8,856.9 644.3,855.3 644.8,853.7 645.4,852.2 645.9,850.8 646.4,849.5 646.9,848.4 647.4,847.4 647.9,846.5 648.5,845.9 649.0,845.4 649.5,845.1 650.0,845.0 650.5,845.1 651.0,845.4 651.5,845.9 652.0,846.6 652.5,847.5 653.0,848.6 653.5,849.8 654.0,851.2 654.5,852.7 655.0,854.3 655.5,856.0 656.0,857.8 656.5,859.6 657.0,861.4 657.6,863.3 658.1,865.1 658.6,866.9 659.1,868.6 659.6,870.2 660.1,871.7 660.6,873.1 661.1,874.3 661.6,875.4 662.1,876.3 662.6,877.0 663.1,877.5 663.6,877.8 664.1,877.9 664.6,877.8 665.1,877.4 665.6,876.7 666.1,875.9 666.6,874.7 667.1,873.4 667.7,871.9 668.2,870.2 668.7,868.4 669.2,866.5 669.7,864.5 670.2,862.4 670.7,860.3 671.2,858.2 671.7,856.2 672.2,854.3 672.7,852.5 673.2,850.8 673.8,849.3 674.3,848.0 674.8,846.8 675.3,846.0 675.8,845.3 676.3,844.9 676.8,844.8 677.3,844.9 677.8,845.2 678.3,845.7 678.8,846.4 679.3,847.3 679.8,848.4 680.3,849.6 680.8,851.0 681.3,852.5 681.8,854.1 682.3,855.8 682.8,857.5 683.3,859.3 683.9,861.1 684.4,862.9 684.9,864.6 685.4,866.3 685.9,867.9 686.4,869.4 686.9,870.8 687.4,872.0 687.9,873.1 688.4,874.0 688.9,874.7 689.4,875.2 689.9,875.5 690.4,875.6 690.9,875.5 691.4,875.2 691.9,874.7 692.4,873.9 692.9,873.0 693.4,871.9 693.9,870.7 694.4,869.2 694.9,867.7 695.4,866.0 695.9,864.3 696.4,862.5 696.9,860.6 697.4,858.7 697.9,856.8 698.4,854.9 698.9,853.1 699.4,851.4 699.9,849.7 700.4,848.2 700.9,846.7 701.4,845.5 701.9,844.4 702.4,843.5 702.9,842.7 703.4,842.2 703.9,841.9 704.4,841.8 704.9,842.0 705.4,842.5 705.9,843.3 706.4,844.5 706.9,845.9 707.5,847.6 708.0,849.5 708.5,851.7 709.0,854.0 709.5,856.5 710.0,859.0 710.5,861.6 711.0,864.2 711.5,866.7 712.0,869.2 712.5,871.5 713.0,873.7 713.5,875.6 714.1,877.3 714.6,878.7 715.1,879.9 715.6,880.7 716.1,881.2 716.6,881.4 717.1,881.2 717.6,880.8 718.1,880.0 718.6,878.9 719.1,877.5 719.6,875.9 720.1,874.0 720.6,871.9 721.1,869.6 721.6,867.2 722.1,864.6 722.6,862.0 723.1,859.4 723.6,856.7 724.1,854.1 724.6,851.5 725.1,849.1 725.6,846.8 726.1,844.7 726.6,842.8 727.1,841.2 727.6,839.8 728.1,838.7 728.6,837.9 729.1,837.5 729.6,837.3 730.1,837.4 730.6,837.9 731.1,838.6 731.6,839.6 732.1,840.9 732.6,842.5 733.1,844.2 733.6,846.2 734.1,848.3 734.6,850.6 735.1,853.0 735.6,855.5 736.1,858.1 736.7,860.6 737.2,863.2 737.7,865.7 738.2,868.1 738.7,870.4 739.2,872.5 739.7,874.5 740.2,876.2 740.7,877.8 741.2,879.1 741.7,880.1 742.2,880.8 742.7,881.3 743.2,881.4 743.7,881.2 744.2,880.8 744.8,880.0 745.3,879.0 745.8,877.6 746.3,876.1 746.8,874.3 747.3,872.3 747.9,870.2 748.4,867.9 748.9,865.6 749.4,863.2 749.9,860.9 750.4,858.6 751.0,856.3 751.5,854.2 752.0,852.2 752.5,850.4 753.0,848.9 753.5,847.5 754.1,846.5 754.6,845.7 755.1,845.3 755.6,845.1 756.1,845.2 756.6,845.5 757.1,846.0 757.6,846.7 758.1,847.6 758.6,848.7 759.2,849.9 759.7,851.3 760.2,852.7 760.7,854.3 761.2,855.9 761.7,857.5 762.2,859.2 762.7,860.8 763.2,862.4 763.7,864.0 764.2,865.4 764.7,866.8 765.3,868.0 765.8,869.1 766.3,870.0 766.8,870.7 767.3,871.2 767.8,871.5 768.3,871.6 768.6,871.3 769.0,870.9 769.5,870.4 770.0,869.7 770.5,869.0 771.0,868.1 771.5,867.0 772.0,865.9 772.5,864.8 773.0,863.8 773.5,862.9 774.0,862.1 774.4,861.3 774.9,860.5 775.5,859.8 776.1,859.1 776.8,858.5 777.5,857.9 778.2,857.3 779.0,856.8 779.8,856.3 780.7,855.7 781.7,855.3 782.6,854.9 783.4,854.8 784.2,854.9 784.9,855.2 785.6,855.7 786.3,856.3 787.0,856.8 787.7,857.4 788.4,858.1 789.1,858.8 789.8,859.5 790.5,860.1 791.2,860.5 791.9,860.8 792.6,861.0 793.3,861.3 794.0,861.7 794.6,862.2 795.2,862.8 795.8,863.4 796.4,864.0 797.0,864.6 797.6,865.2 798.1,865.7 798.7,866.3 799.3,866.7 799.9,866.9 800.6,866.9 801.2,866.8 801.9,866.6 802.7,866.3 803.5,865.8 804.4,865.2 805.3,864.6 806.3,863.8 807.3,862.9 808.2,861.9 809.0,860.7 809.8,859.3 810.6,857.9 811.3,856.5 812.0,855.2 812.6,854.1 813.2,853.0 813.8,852.0 814.3,851.1 814.8,850.4 815.2,849.8 815.6,849.4 816.0,849.1 816.3,848.9 816.7,848.9 817.1,849.0 817.5,849.1 817.9,849.5 818.4,850.0 819.0,850.8 819.7,851.9 820.5,853.4 821.3,855.0 822.2,856.8 823.0,858.5 823.8,860.3 824.6,862.3 825.5,864.4 826.3,866.2 827.0,867.8 827.7,869.1 828.3,870.1 828.9,871.0 829.5,871.6 830.1,872.0 830.7,872.1 831.2,871.8 831.8,871.4 832.4,870.8 833.0,870.0 833.8,869.0 834.6,867.6 835.5,866.2 836.3,864.9 836.8,864.0" fill="none" stroke="#2347dc" stroke-width="2.4" stroke-linejoin="round" stroke-linecap="round" clip-path="url(#clipe)"/>
<polyline points="548.8,933.6 549.3,933.7 549.8,934.0 550.4,934.5 550.9,935.1 551.4,935.8 551.9,936.5 552.4,937.2 552.9,937.8 553.5,938.3 554.0,938.6 554.5,938.7 555.0,938.6 555.5,938.4 556.0,938.1 556.5,937.6 557.0,937.0 557.5,936.2 558.0,935.4 558.5,934.4 559.0,933.3 559.5,932.2 560.0,931.0 560.5,929.7 561.0,928.4 561.5,927.1 562.0,925.7 562.6,924.3 563.1,923.0 563.6,921.7 564.1,920.4 564.6,919.2 565.1,918.1 565.6,917.0 566.1,916.0 566.6,915.2 567.1,914.4 567.6,913.8 568.1,913.3 568.6,913.0 569.1,912.8 569.6,912.7 570.1,912.8 570.6,913.1 571.1,913.5 571.6,914.1 572.1,914.9 572.6,915.8 573.2,916.8 573.7,917.9 574.2,919.2 574.7,920.5 575.2,921.9 575.7,923.4 576.2,924.9 576.7,926.3 577.2,927.8 577.7,929.2 578.2,930.5 578.7,931.8 579.2,932.9 579.8,933.9 580.3,934.8 580.8,935.6 581.3,936.2 581.8,936.6 582.3,936.9 582.8,937.0 583.3,936.9 583.8,936.7 584.3,936.3 584.8,935.8 585.4,935.1 585.9,934.4 586.4,933.5 586.9,932.5 587.4,931.4 587.9,930.3 588.4,929.1 588.9,927.9 589.5,926.6 590.0,925.4 590.5,924.2 591.0,923.1 591.5,922.0 592.0,921.0 592.5,920.1 593.0,919.4 593.6,918.7 594.1,918.2 594.6,917.8 595.1,917.6 595.6,917.5 596.1,917.6 596.6,917.8 597.1,918.1 597.6,918.6 598.1,919.1 598.6,919.8 599.1,920.6 599.6,921.5 600.1,922.4 600.6,923.4 601.1,924.4 601.6,925.5 602.2,926.6 602.7,927.7 603.2,928.7 603.7,929.7 604.2,930.6 604.7,931.5 605.2,932.3 605.7,933.0 606.2,933.5 606.7,934.0 607.2,934.3 607.7,934.5 608.2,934.6 608.7,934.4 609.3,934.2 610.0,933.9 610.8,933.5 611.5,933.0 612.1,932.3 612.7,931.5 613.3,930.6 613.9,929.6 614.5,928.6 615.2,927.5 615.9,926.3 616.6,925.0 617.3,923.8 618.0,922.8 618.7,922.0 619.4,921.2 620.1,920.6 620.8,920.0 621.5,919.4 622.1,918.8 622.8,918.2 623.3,917.7 623.9,917.2 624.5,916.8 625.1,916.5 625.7,916.2 626.3,916.0 626.8,915.8 627.2,915.7 627.7,915.8 628.2,916.0 628.7,916.4 629.2,916.9 629.7,917.6 630.2,918.4 630.7,919.3 631.2,920.3 631.7,921.4 632.2,922.6 632.7,923.8 633.2,925.1 633.7,926.4 634.2,927.6 634.7,928.9 635.2,930.1 635.7,931.3 636.2,932.4 636.7,933.4 637.2,934.3 637.7,935.1 638.2,935.8 638.7,936.3 639.2,936.7 639.7,936.9 640.2,937.0 640.7,936.9 641.2,936.7 641.7,936.3 642.2,935.8 642.7,935.1 643.2,934.3 643.7,933.4 644.2,932.4 644.7,931.4 645.2,930.2 645.7,929.0 646.2,927.7 646.7,926.5 647.2,925.2 647.7,923.9 648.2,922.7 648.7,921.5 649.2,920.5 649.7,919.5 650.2,918.6 650.7,917.8 651.2,917.1 651.7,916.6 652.2,916.2 652.7,916.0 653.2,915.9 653.7,916.0 654.2,916.2 654.7,916.6 655.2,917.2 655.7,917.9 656.2,918.7 656.7,919.7 657.2,920.7 657.7,921.9 658.2,923.1 658.7,924.4 659.2,925.7 659.7,927.0 660.2,928.4 660.7,929.7 661.2,931.0 661.7,932.2 662.2,933.4 662.7,934.4 663.2,935.4 663.7,936.2 664.2,936.9 664.7,937.5 665.2,937.9 665.7,938.1 666.2,938.2 666.7,938.1 667.2,937.9 667.7,937.5 668.2,936.9 668.7,936.2 669.2,935.4 669.7,934.4 670.2,933.3 670.7,932.1 671.2,930.9 671.7,929.5 672.2,928.2 672.7,926.8 673.3,925.3 673.8,923.9 674.3,922.6 674.8,921.2 675.3,920.0 675.8,918.8 676.3,917.7 676.8,916.7 677.3,915.9 677.8,915.2 678.3,914.6 678.8,914.2 679.3,914.0 679.8,913.9 680.3,914.0 680.8,914.4 681.3,915.0 681.9,915.9 682.4,917.0 682.9,918.3 683.4,919.8 683.9,921.4 684.5,923.2 685.0,925.1 685.5,927.0 686.0,929.0 686.5,931.0 687.0,932.9 687.5,934.8 688.1,936.5 688.6,938.2 689.1,939.7 689.6,941.0 690.1,942.1 690.7,943.0 691.2,943.6 691.7,944.0 692.2,944.1 692.7,944.0 693.2,943.5 693.7,942.8 694.2,941.8 694.7,940.6 695.2,939.1 695.7,937.4 696.2,935.5 696.7,933.5 697.2,931.3 697.7,929.1 698.2,926.8 698.8,924.4 699.3,922.1 699.8,919.9 700.3,917.7 700.8,915.7 701.3,913.8 701.8,912.1 702.3,910.6 702.8,909.4 703.3,908.4 703.8,907.7 704.3,907.2 704.8,907.1 705.3,907.2 705.8,907.6 706.3,908.2 706.8,909.1 707.3,910.2 707.8,911.5 708.3,913.0 708.8,914.6 709.3,916.4 709.8,918.4 710.3,920.4 710.8,922.5 711.3,924.7 711.9,926.8 712.4,929.0 712.9,931.1 713.4,933.1 713.9,935.1 714.4,936.9 714.9,938.5 715.4,940.0 715.9,941.3 716.4,942.4 716.9,943.3 717.4,943.9 717.9,944.3 718.4,944.4 718.9,944.3 719.4,943.9 719.9,943.4 720.4,942.6 720.9,941.6 721.4,940.5 722.0,939.1 722.5,937.6 723.0,936.0 723.5,934.3 724.0,932.5 724.5,930.6 725.0,928.8 725.5,926.9 726.0,925.0 726.5,923.2 727.0,921.5 727.5,919.9 728.0,918.4 728.6,917.0 729.1,915.9 729.6,914.9 730.1,914.1 730.6,913.6 731.1,913.2 731.6,913.1 732.1,913.2 732.6,913.4 733.1,913.8 733.6,914.4 734.1,915.1 734.6,916.0 735.1,917.0 735.6,918.0 736.1,919.2 736.6,920.5 737.1,921.8 737.6,923.2 738.1,924.5 738.6,925.9 739.1,927.3 739.6,928.6 740.1,929.9 740.6,931.1 741.1,932.1 741.6,933.1 742.1,934.0 742.6,934.7 743.1,935.3 743.6,935.7 744.1,935.9 744.6,936.0 745.1,935.9 745.6,935.7 746.1,935.3 746.6,934.7 747.1,934.0 747.6,933.2 748.2,932.3 748.7,931.2 749.2,930.1 749.7,928.9 750.2,927.7 750.7,926.5 751.2,925.2 751.7,924.0 752.2,922.8 752.7,921.7 753.2,920.6 753.8,919.7 754.3,918.9 754.8,918.2 755.3,917.6 755.8,917.2 756.3,917.0 756.8,916.9 757.3,917.0 757.8,917.3 758.3,917.8 758.8,918.4 759.3,919.2 759.9,920.2 760.4,921.2 760.9,922.4 761.4,923.7 761.9,925.0 762.4,926.3 762.9,927.7 763.4,929.0 763.9,930.3 764.4,931.5 764.9,932.5 765.5,933.5 766.0,934.3 766.5,934.9 767.0,935.4 767.5,935.7 768.0,935.8 768.5,935.7 769.0,935.6 769.5,935.3 770.0,934.8 770.5,934.3 771.0,933.7 771.5,933.0 772.0,932.2 772.5,931.3 773.0,930.3 773.5,929.3 774.0,928.3 774.5,927.3 775.1,926.2 775.6,925.2 776.1,924.2 776.6,923.2 777.1,922.2 777.6,921.3 778.1,920.5 778.6,919.8 779.1,919.2 779.6,918.7 780.1,918.2 780.6,917.9 781.1,917.8 781.6,917.7 782.1,917.7 782.6,917.9 783.1,918.1 783.7,918.4 784.2,918.7 784.7,919.1 785.2,919.6 785.7,920.2 786.2,920.8 786.7,921.5 787.2,922.2 787.8,922.9 788.3,923.7 788.8,924.5 789.3,925.2 789.8,926.0 790.3,926.8 790.8,927.6 791.4,928.3 791.9,929.0 792.4,929.7 792.9,930.3 793.4,930.9 793.9,931.4 794.4,931.8 794.9,932.1 795.5,932.4 796.0,932.6 796.5,932.8 797.0,932.8 797.5,932.8 798.0,932.7 798.5,932.5 799.1,932.3 799.6,932.0 800.1,931.7 800.6,931.4 801.1,930.9 801.6,930.5 802.1,930.0 802.6,929.4 803.2,928.9 803.7,928.3 804.2,927.7 804.7,927.1 805.2,926.5 805.7,925.9 806.2,925.3 806.7,924.7 807.3,924.2 807.8,923.6 808.3,923.1 808.8,922.7 809.3,922.2 809.8,921.9 810.3,921.6 810.8,921.3 811.4,921.1 811.9,920.9 812.4,920.8 812.9,920.8 813.4,920.8 813.9,920.9 814.4,921.1 814.9,921.3 815.4,921.6 815.9,921.9 816.4,922.3 816.9,922.7 817.4,923.1 817.9,923.6 818.4,924.1 818.9,924.7 819.4,925.2 819.9,925.8 820.4,926.4 820.9,926.9 821.4,927.5 821.9,928.0 822.4,928.5 822.9,928.9 823.4,929.3 823.9,929.7 824.4,930.0 824.9,930.3 825.4,930.5 825.9,930.7 826.4,930.8 826.9,930.8 827.4,930.8 827.9,930.6 828.5,930.4 829.0,930.1 829.5,929.7 830.0,929.3 830.5,928.8 831.1,928.2 831.6,927.7 832.1,927.1 832.6,926.6 833.2,926.0 833.7,925.5 834.2,925.1 834.7,924.7 835.2,924.4 835.8,924.2 836.3,924.0 836.8,924.0" fill="none" stroke="#6a12dc" stroke-width="2.4" stroke-linejoin="round" stroke-linecap="round" clip-path="url(#clipe)"/>
<line x1="550.3" y1="706.6" x2="559.3" y2="706.6" stroke="#000" stroke-width="1.4"/>
<line x1="550.3" y1="926.2" x2="559.3" y2="926.2" stroke="#000" stroke-width="1.4"/>
<line x1="581.5" y1="948.3" x2="581.5" y2="940.0" stroke="#000" stroke-width="1.7"/>
<line x1="637.1" y1="948.3" x2="637.1" y2="940.0" stroke="#000" stroke-width="1.7"/>
<line x1="748.3" y1="948.3" x2="748.3" y2="940.0" stroke="#000" stroke-width="1.7"/>
<line x1="803.9" y1="948.3" x2="803.9" y2="940.0" stroke="#000" stroke-width="1.7"/>
<text x="541.8" y="493.0" font-size="20" text-anchor="end">0.4</text>
<text x="541.8" y="712.0" font-size="20" text-anchor="end">0.2</text>
<text x="541.8" y="932.0" font-size="20" text-anchor="end">0.0</text>
<text x="582.8" y="973.0" font-size="21" text-anchor="middle">-20</text>
<text x="638.4" y="973.0" font-size="21" text-anchor="middle">-10</text>
<text x="693.7" y="973.0" font-size="21" text-anchor="middle">0</text>
<text x="749.3" y="973.0" font-size="21" text-anchor="middle">10</text>
<text x="804.9" y="973.0" font-size="21" text-anchor="middle">20</text>
<text x="470.5" y="493.0" font-size="33" text-anchor="start">(e)</text>
<text x="614.8" y="511.2" font-size="23.6" text-anchor="start">h/6e oscillations</text>
<text x="839.5" y="534.0" font-size="21.6" text-anchor="start">2.74 K</text>
<text x="842.6" y="599.8" font-size="21.6" text-anchor="start">2.71 K</text>
<text x="842.6" y="665.7" font-size="21.6" text-anchor="start">2.69 K</text>
<text x="842.6" y="736.0" font-size="21.6" text-anchor="start">2.68 K</text>
<text x="842.6" y="794.7" font-size="21.6" text-anchor="start">2.6 K</text>
<text x="844.7" y="867.6" font-size="21.6" text-anchor="start">2.54 K</text>
<text x="842.6" y="929.0" font-size="21.6" text-anchor="start">2.5 K</text>
<text x="692.4" y="1002.5" font-size="23.5" text-anchor="middle"><tspan font-style="italic">H</tspan> (Oe)</text>
<text x="502.9" y="687" font-size="23" text-anchor="middle" transform="rotate(-90 502.9 687)">&#916;<tspan font-style="italic">R</tspan> (&#937;)</text>
<defs><radialGradient id="ball" cx="0.36" cy="0.34" r="0.65"><stop offset="0" stop-color="#ddd"/><stop offset="0.22" stop-color="#555"/><stop offset="0.5" stop-color="#111"/><stop offset="1" stop-color="#000"/></radialGradient></defs>
<clipPath id="clipf"><rect x="940.7" y="50.3" width="275.0" height="221.3"/></clipPath>
<circle cx="963.5" cy="271.4" r="2.9" fill="url(#ball)"/>
<circle cx="986.4" cy="255.3" r="2.9" fill="url(#ball)"/>
<circle cx="1009.2" cy="238.0" r="2.9" fill="url(#ball)"/>
<circle cx="1032.0" cy="220.5" r="2.9" fill="url(#ball)"/>
<circle cx="1055.1" cy="205.3" r="2.9" fill="url(#ball)"/>
<circle cx="1078.0" cy="186.8" r="2.9" fill="url(#ball)"/>
<circle cx="1100.9" cy="170.5" r="2.9" fill="url(#ball)"/>
<circle cx="1123.7" cy="151.1" r="2.9" fill="url(#ball)"/>
<circle cx="1146.8" cy="132.2" r="2.9" fill="url(#ball)"/>
<circle cx="1169.6" cy="112.0" r="2.9" fill="url(#ball)"/>
<circle cx="1192.5" cy="94.9" r="2.9" fill="url(#ball)"/>
<line x1="963.5" y1="271.6" x2="1215.7" y2="81.1" stroke="#dc3030" stroke-width="1.0" clip-path="url(#clipf)"/>
<rect x="940.7" y="50.3" width="275.0" height="221.3" fill="none" stroke="#222" stroke-width="1.2"/>
<line x1="940.7" y1="197.5" x2="944.7" y2="197.5" stroke="#000" stroke-width="1.1"/>
<line x1="940.7" y1="123.6" x2="944.7" y2="123.6" stroke="#000" stroke-width="1.1"/>
<text x="936.7" y="275.2" font-size="20" text-anchor="end">0</text>
<text x="936.7" y="200.1" font-size="20" text-anchor="end">10</text>
<text x="936.7" y="126.2" font-size="20" text-anchor="end">20</text>
<text x="936.7" y="56.7" font-size="20" text-anchor="end">30</text>
<text x="966.0" y="293.5" font-size="21" text-anchor="middle">0</text>
<line x1="1009.3" y1="271.6" x2="1009.3" y2="266.6" stroke="#000" stroke-width="1.2"/>
<text x="1011.8" y="293.5" font-size="21" text-anchor="middle">1</text>
<line x1="1055.1" y1="271.6" x2="1055.1" y2="266.6" stroke="#000" stroke-width="1.2"/>
<text x="1057.6" y="293.5" font-size="21" text-anchor="middle">2</text>
<line x1="1100.9" y1="271.6" x2="1100.9" y2="266.6" stroke="#000" stroke-width="1.2"/>
<text x="1103.4" y="293.5" font-size="21" text-anchor="middle">3</text>
<line x1="1146.7" y1="271.6" x2="1146.7" y2="266.6" stroke="#000" stroke-width="1.2"/>
<text x="1149.2" y="293.5" font-size="21" text-anchor="middle">4</text>
<line x1="1192.5" y1="271.6" x2="1192.5" y2="266.6" stroke="#000" stroke-width="1.2"/>
<text x="1195.0" y="293.5" font-size="21" text-anchor="middle">5</text>
<text x="864.0" y="61.5" font-size="33" text-anchor="start">(f)</text>
<text x="1086.5" y="323.5" font-size="23.5" text-anchor="middle">n</text>
<text x="904.5" y="142.5" font-size="23.5" text-anchor="middle" transform="rotate(-90 904.5 142.5)"><tspan font-style="italic">H</tspan><tspan font-style="italic" font-size="19" dy="2.5">n</tspan><tspan dy="-2.5" dx="3"> (Oe)</tspan></text>
<circle cx="967.7" cy="71.5" r="2.8" fill="url(#ball)"/>
<text x="986.0" y="75.2" font-size="21" text-anchor="start">6e</text>
<line x1="955.0" y1="99.0" x2="980.0" y2="99.0" stroke="#e57878" stroke-width="1.1"/>
<text x="986.0" y="103.5" font-size="21.3" text-anchor="start">linear fitting</text>
<line x1="1074.1" y1="357.6" x2="1074.1" y2="947.5" stroke="#444" stroke-width="1.3" stroke-dasharray="3.4 2.2"/>
<rect x="1015.2" y="357.6" width="117.9" height="589.9" fill="none" stroke="#222" stroke-width="1.5"/>
<polyline points="1015.1,463.1 1027.5,463.1 1034.2,464.0 1040.4,459.3 1047.1,458.6 1054.3,457.0 1060.1,455.0 1066.1,449.0 1073.7,423.6 1080.0,438.7 1086.2,450.1 1092.0,459.3 1098.5,454.4 1104.9,462.9 1111.4,463.5 1117.6,462.1 1124.3,463.1 1137.6,463.8" fill="none" stroke="#e8421a" stroke-width="2.1" stroke-linejoin="miter" stroke-linecap="round"/>
<polyline points="1014.6,503.9 1025.4,503.8 1031.1,504.9 1036.8,502.6 1046.5,500.8 1051.7,498.8 1057.3,488.9 1062.7,497.1 1068.2,491.8 1073.3,473.7 1079.0,480.6 1084.1,497.4 1089.3,501.8 1094.7,496.9 1099.6,501.0 1104.9,504.1 1110.4,502.9 1115.5,503.1 1121.2,504.9 1128.4,505.3 1137.6,504.6" fill="none" stroke="#f0a21c" stroke-width="2.1" stroke-linejoin="miter" stroke-linecap="round"/>
<polyline points="1014.6,579.2 1027.5,578.9 1034.7,577.9 1041.7,579.6 1048.1,575.8 1055.1,571.7 1061.5,559.3 1068.7,554.5 1075.4,542.4 1081.8,575.8 1089.3,577.1 1095.4,576.8 1102.1,574.6 1108.3,574.3 1115.0,575.8 1122.2,577.3 1129.4,579.4 1136.1,579.2" fill="none" stroke="#7be01e" stroke-width="2.1" stroke-linejoin="miter" stroke-linecap="round"/>
<polyline points="1014.6,653.1 1027.5,653.1 1036.2,652.6 1041.4,650.5 1047.1,644.8 1052.2,643.8 1057.6,639.5 1063.0,638.9 1068.2,653.9 1073.6,589.3 1079.0,638.7 1084.1,654.1 1089.3,643.8 1094.7,650.0 1099.6,650.5 1105.2,654.1 1110.9,653.6 1120.7,656.0 1129.4,653.6 1137.6,653.8" fill="none" stroke="#1de37a" stroke-width="2.1" stroke-linejoin="miter" stroke-linecap="round"/>
<polyline points="1014.6,755.9 1020.3,756.2 1027.5,754.9 1032.6,753.7 1038.3,749.8 1044.0,753.5 1049.8,743.9 1055.6,750.4 1061.2,720.7 1067.1,731.2 1073.1,665.1 1084.6,748.5 1090.5,759.3 1096.3,749.3 1101.9,758.3 1107.8,756.6 1114.0,757.8 1119.1,757.5 1125.3,759.3 1130.9,757.3 1137.6,759.0" fill="none" stroke="#1eaeea" stroke-width="2.1" stroke-linejoin="miter" stroke-linecap="round"/>
<polyline points="1014.6,851.7 1027.5,851.4 1032.6,852.1 1037.8,850.7 1042.9,850.1 1047.1,848.8 1050.9,846.2 1055.3,836.8 1059.9,833.6 1064.0,826.7 1068.5,828.0 1073.0,768.5 1077.4,809.7 1082.1,835.9 1086.4,833.9 1090.8,845.9 1095.4,850.7 1099.8,849.3 1104.2,847.3 1108.8,849.0 1113.4,851.9 1117.6,850.4 1121.7,851.1 1126.3,850.4 1130.9,852.1 1136.1,852.1" fill="none" stroke="#2347dc" stroke-width="2.1" stroke-linejoin="miter" stroke-linecap="round"/>
<polyline points="1014.6,943.2 1021.3,943.2 1027.5,942.4 1034.7,942.6 1040.9,941.6 1047.1,945.9 1053.7,934.6 1060.1,932.0 1066.4,935.6 1073.0,861.8 1079.5,914.8 1085.7,924.6 1092.3,934.4 1098.5,935.9 1105.2,940.8 1111.4,940.3 1118.1,943.7 1124.8,945.2 1130.9,944.5 1137.6,944.0" fill="none" stroke="#6a12dc" stroke-width="2.1" stroke-linejoin="miter" stroke-linecap="round"/>
<line x1="1015.2" y1="829.4" x2="1024.7" y2="829.4" stroke="#000" stroke-width="1.3"/>
<line x1="1015.2" y1="711.5" x2="1024.7" y2="711.5" stroke="#000" stroke-width="1.3"/>
<line x1="1015.2" y1="593.6" x2="1024.7" y2="593.6" stroke="#000" stroke-width="1.3"/>
<line x1="1015.2" y1="475.7" x2="1024.7" y2="475.7" stroke="#000" stroke-width="1.3"/>
<text x="1008.8" y="951.9" font-size="20.4" text-anchor="end">0</text>
<text x="1008.8" y="834.0" font-size="20.4" text-anchor="end">1</text>
<text x="1008.8" y="716.1" font-size="20.4" text-anchor="end">2</text>
<text x="1008.8" y="598.2" font-size="20.4" text-anchor="end">3</text>
<text x="1008.8" y="480.3" font-size="20.4" text-anchor="end">4</text>
<text x="1008.8" y="362.4" font-size="20.4" text-anchor="end">5</text>
<line x1="1074.1" y1="947.5" x2="1074.1" y2="938.5" stroke="#000" stroke-width="1.5"/>
<text x="1015.7" y="971.3" font-size="20.4" text-anchor="middle">0</text>
<text x="1074.5" y="971.3" font-size="20.4" text-anchor="middle">3</text>
<text x="1134.4" y="971.3" font-size="20.4" text-anchor="middle">6</text>
<text x="934.0" y="375.3" font-size="33" text-anchor="start">(g)</text>
<text x="1142.1" y="467.4" font-size="21.3" text-anchor="start">2.74 K</text>
<text x="1144.9" y="507.4" font-size="21.3" text-anchor="start">2.71 K</text>
<text x="1146.2" y="579.7" font-size="21.3" text-anchor="start">2.69 K</text>
<text x="1144.9" y="658.5" font-size="21.3" text-anchor="start">2.68 K</text>
<text x="1144.9" y="762.8" font-size="21.3" text-anchor="start">2.60 K</text>
<text x="1142.9" y="853.6" font-size="21.3" text-anchor="start">2.54 K</text>
<text x="1144.9" y="943.7" font-size="21.3" text-anchor="start">2.50 K</text>
<text x="960" y="635.8" font-size="24" text-anchor="middle" transform="rotate(-90 960 635.8)">amplitude (a.u.)</text>
<text x="1039.2" y="1001.6" font-size="22.5">1/<tspan font-style="italic">&#934;</tspan><tspan font-size="12" dy="4.8">0</tspan><tspan dy="-4.8" dx="3">(2e/h)</tspan></text>
</svg>
</body></html>
